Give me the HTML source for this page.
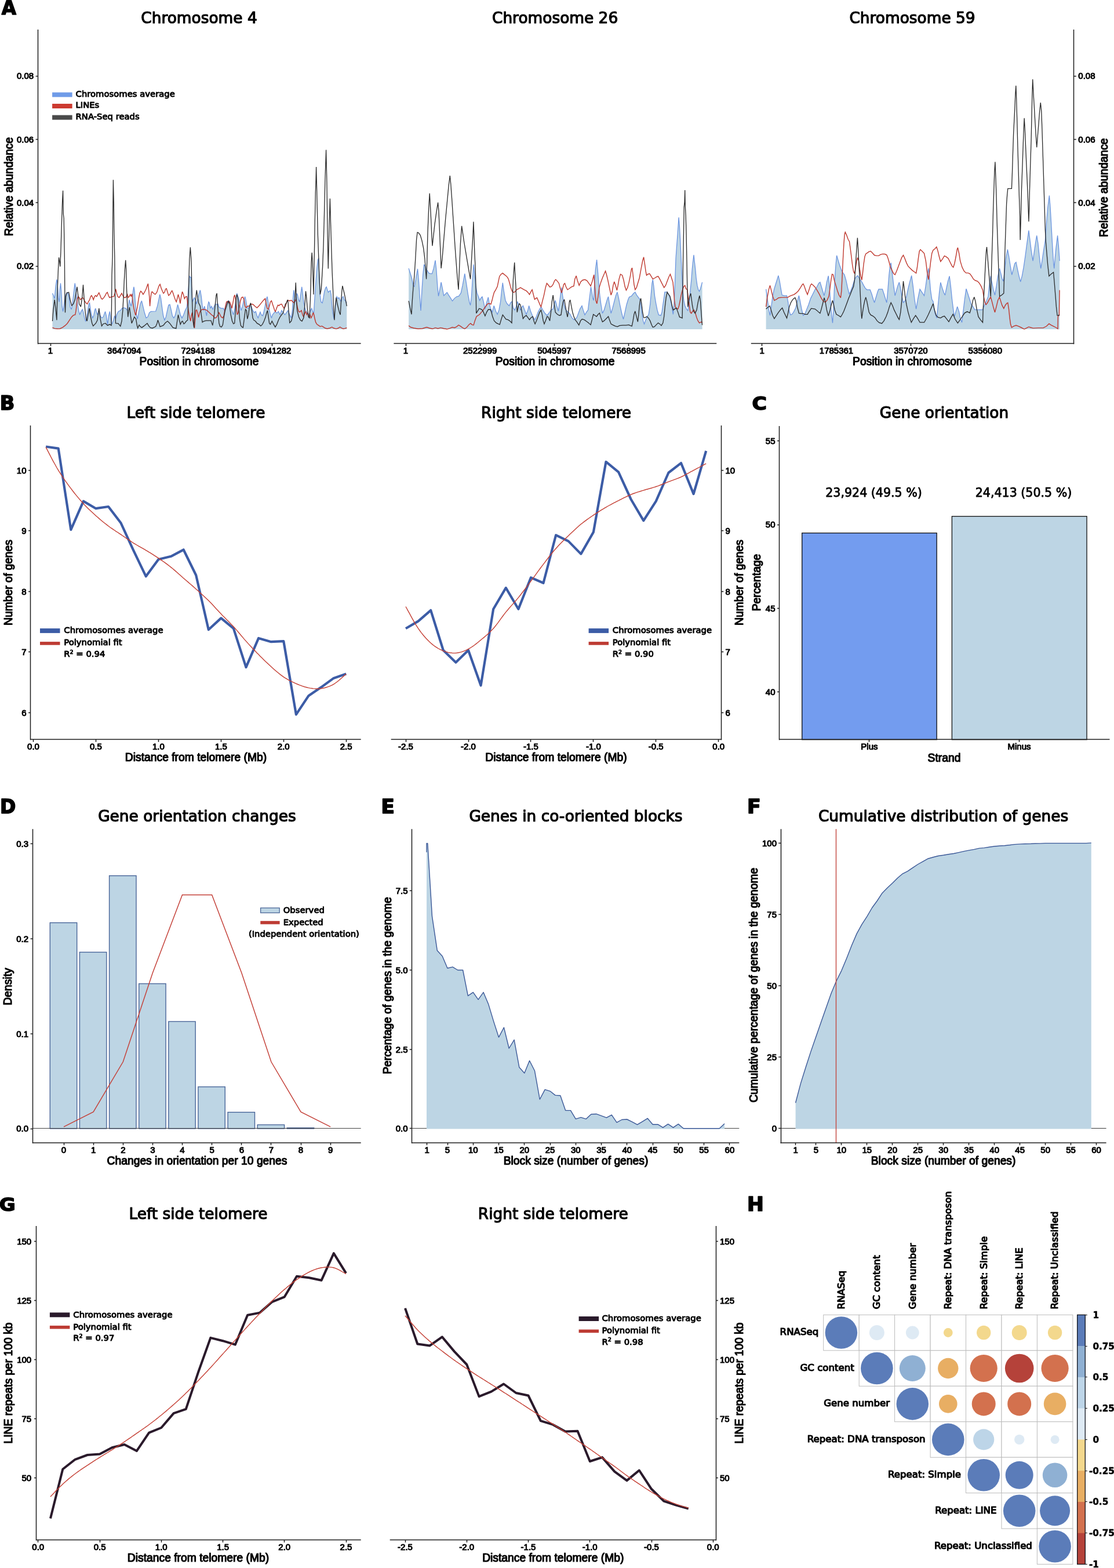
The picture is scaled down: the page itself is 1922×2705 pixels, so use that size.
<!DOCTYPE html>
<html lang="en"><head><meta charset="utf-8"><title>Figure</title>
<style>
html,body{margin:0;padding:0;background:#fff;}
body{width:1922px;height:2705px;overflow:hidden;}
svg{display:block;}
svg text{font-family:'Liberation Sans',sans-serif;fill:#000;stroke:#000;stroke-width:1px;paint-order:stroke;stroke-linejoin:round;}
svg text.dj{font-family:'DejaVu Sans','Liberation Sans',sans-serif;}
svg text.ttl{stroke-width:1.2px;}
svg text.ltr{stroke-width:5px;}
svg text.lg{stroke-width:0.95px;}
svg text.lab{stroke-width:1.15px;}
svg text.val{stroke-width:0.8px;}
svg text.cb{stroke-width:0.5px;}
svg text.hl{stroke-width:1.15px;}
</style></head><body>
<svg width="1922" height="2705" viewBox="0 0 1922 2705">
<rect x="0" y="0" width="1922" height="2705" fill="#fff"/>
<g id="panel-a">
<text transform="translate(2.85 24.92) scale(0.3259 0.3282)" font-size="100" font-weight="bold" class="dj ltr">A</text>
<text x="343.5" y="39.7" font-size="26.4" text-anchor="middle" class="dj ttl">Chromosome 4</text>
<polygon points="90.5,568 90.5,506 92.3,509.7 94.2,515.2 96,494.9 97.9,482 99.2,489.4 100.6,513.4 102.1,520.8 103.4,498.6 104.5,488.5 105.8,502.3 107.1,528.2 108.6,537.4 110.2,528.2 111.7,513.4 113.6,507.9 115.4,505.1 117.3,506 119.1,513.4 121.3,530 123.2,533.7 125,524.5 126.9,507.9 128.4,494.9 129.3,488.5 130.6,498.6 132,511.6 133.9,524.5 135.7,535.6 137.6,543 139.8,537.4 142.2,533.7 144.1,539.3 145.9,548.5 147.7,554 149.6,550.3 151.4,535.6 153.3,524.5 154.6,522.6 156.1,533.7 157.9,543 159.8,548.5 161.6,544.8 163.4,535.6 164.7,531.9 166.2,537.4 168.1,543 170.8,535.6 173.1,544.8 175.5,548.5 178.2,546.7 180.1,541.1 181.6,537.4 183.4,544.8 185.6,559.6 187.5,544.8 189.3,537.4 191.2,550.3 193,559.6 195.8,552.2 197.6,544.8 199.5,550.3 201.3,543 204.1,537.4 207.8,535.6 210.6,531.9 213.3,531 217,531.9 219.8,535.6 221.6,528.2 222.9,517.1 224.4,522.6 226.3,528.2 228.1,517.1 229.6,502.3 230.9,494.9 232.2,502.3 233.6,524.5 235.5,543 237.3,550.3 239.2,539.3 242,524.5 244.4,518.9 246.6,528.2 249.3,539.3 252.1,548.5 254.9,546.7 257.7,539.3 260.4,537.4 268.7,537 271.5,528.2 273.9,517.1 275.8,507.9 277.6,515.2 279.8,531.9 281.7,544.8 283.9,552.2 286.3,546.7 289.1,533.7 290.9,526.3 293.1,525.4 295.5,535.6 297.4,544.8 299.8,548.5 302,544.8 304.8,533.7 306.6,525.4 308.5,531.9 311.2,543 314,548.5 316.8,543 319.5,535.6 322.3,530 324.2,513.4 325.5,489.4 326.9,476.5 328.2,478.3 329.7,478.3 330.8,498.6 331.9,520.8 333.4,517.1 335.2,513.4 337.1,517.1 338.9,524.5 340.8,517.1 343,507.9 345.4,500.5 347.3,511.6 349.1,528.2 351,535.6 352.8,528.2 354.6,535.6 356.5,544.8 358.3,528.2 360,520.8 361.2,522.6 363.1,531.9 364.9,528.2 367.3,533.7 369.6,528.2 371.8,524.5 374.2,525.4 376,524.5 377.9,530 381.6,531.9 385.3,531.9 387.1,535.6 389,528.2 391.7,520.8 394.5,518.9 397.3,524.5 400,535.6 402.8,543 405,531.9 406.9,517.1 408.7,506 410.6,511.6 412.4,517.1 414.3,528.2 416.1,535.6 418.5,528.2 420.4,518.9 422.6,511.6 424.1,517.1 425.9,528.2 427.7,531.9 430.5,530 433.3,528.2 436.1,535.6 438.8,539.3 441.2,537.4 443.4,544.8 445.3,548.5 447.1,543 449,538.3 450.8,543 453.1,544.8 454.9,539.3 457.3,528.2 459.2,517.1 461,511.6 462.3,518.9 464.1,531.9 466.5,543 468.4,548.5 470.2,543 473,539.3 474.9,537.4 477.6,540.2 480.4,537.4 483.2,543 485.9,535.6 488.7,539.3 491.5,543 494.2,539.3 497,535.6 499.8,543 502.6,548.5 504.4,535.6 505.7,513.4 506.8,500.5 508.1,511.6 509.6,520.8 510.9,513.4 512.2,506 513.6,509.7 515.1,517.1 517,520.8 518.8,507.9 520.7,494.9 522,504.2 523.8,520.8 525.7,530 527.5,535.6 529.3,539.3 532.1,543 534,541.1 535.8,535.6 537.7,531.9 539.5,537.4 541.4,539.3 542.8,517.1 544.1,498.6 545.4,480.1 546.9,461.7 548.4,448.7 549.7,445.1 550.6,470.9 552.1,507.9 553.9,520.8 556.1,522.6 558,513.4 559.8,502.3 561.7,496.8 563.2,494.9 564.4,498.6 566.3,504.2 568.1,502.3 570,501.4 571.3,507.9 572.8,528.2 574.2,539.3 576.1,550.3 577.9,535.6 579.8,517.1 581.1,511.6 582.9,515.2 584.8,513.4 586.6,517.1 588.5,520.8 590.3,513.4 592.2,511.6 594,517.1 595.9,518.9 598.3,522.6 598.3,568" fill="#bdd5e4" stroke="none" stroke-width="0"/>
<polyline points="90.5,506 92.3,509.7 94.2,515.2 96,494.9 97.9,482 99.2,489.4 100.6,513.4 102.1,520.8 103.4,498.6 104.5,488.5 105.8,502.3 107.1,528.2 108.6,537.4 110.2,528.2 111.7,513.4 113.6,507.9 115.4,505.1 117.3,506 119.1,513.4 121.3,530 123.2,533.7 125,524.5 126.9,507.9 128.4,494.9 129.3,488.5 130.6,498.6 132,511.6 133.9,524.5 135.7,535.6 137.6,543 139.8,537.4 142.2,533.7 144.1,539.3 145.9,548.5 147.7,554 149.6,550.3 151.4,535.6 153.3,524.5 154.6,522.6 156.1,533.7 157.9,543 159.8,548.5 161.6,544.8 163.4,535.6 164.7,531.9 166.2,537.4 168.1,543 170.8,535.6 173.1,544.8 175.5,548.5 178.2,546.7 180.1,541.1 181.6,537.4 183.4,544.8 185.6,559.6 187.5,544.8 189.3,537.4 191.2,550.3 193,559.6 195.8,552.2 197.6,544.8 199.5,550.3 201.3,543 204.1,537.4 207.8,535.6 210.6,531.9 213.3,531 217,531.9 219.8,535.6 221.6,528.2 222.9,517.1 224.4,522.6 226.3,528.2 228.1,517.1 229.6,502.3 230.9,494.9 232.2,502.3 233.6,524.5 235.5,543 237.3,550.3 239.2,539.3 242,524.5 244.4,518.9 246.6,528.2 249.3,539.3 252.1,548.5 254.9,546.7 257.7,539.3 260.4,537.4 268.7,537 271.5,528.2 273.9,517.1 275.8,507.9 277.6,515.2 279.8,531.9 281.7,544.8 283.9,552.2 286.3,546.7 289.1,533.7 290.9,526.3 293.1,525.4 295.5,535.6 297.4,544.8 299.8,548.5 302,544.8 304.8,533.7 306.6,525.4 308.5,531.9 311.2,543 314,548.5 316.8,543 319.5,535.6 322.3,530 324.2,513.4 325.5,489.4 326.9,476.5 328.2,478.3 329.7,478.3 330.8,498.6 331.9,520.8 333.4,517.1 335.2,513.4 337.1,517.1 338.9,524.5 340.8,517.1 343,507.9 345.4,500.5 347.3,511.6 349.1,528.2 351,535.6 352.8,528.2 354.6,535.6 356.5,544.8 358.3,528.2 360,520.8 361.2,522.6 363.1,531.9 364.9,528.2 367.3,533.7 369.6,528.2 371.8,524.5 374.2,525.4 376,524.5 377.9,530 381.6,531.9 385.3,531.9 387.1,535.6 389,528.2 391.7,520.8 394.5,518.9 397.3,524.5 400,535.6 402.8,543 405,531.9 406.9,517.1 408.7,506 410.6,511.6 412.4,517.1 414.3,528.2 416.1,535.6 418.5,528.2 420.4,518.9 422.6,511.6 424.1,517.1 425.9,528.2 427.7,531.9 430.5,530 433.3,528.2 436.1,535.6 438.8,539.3 441.2,537.4 443.4,544.8 445.3,548.5 447.1,543 449,538.3 450.8,543 453.1,544.8 454.9,539.3 457.3,528.2 459.2,517.1 461,511.6 462.3,518.9 464.1,531.9 466.5,543 468.4,548.5 470.2,543 473,539.3 474.9,537.4 477.6,540.2 480.4,537.4 483.2,543 485.9,535.6 488.7,539.3 491.5,543 494.2,539.3 497,535.6 499.8,543 502.6,548.5 504.4,535.6 505.7,513.4 506.8,500.5 508.1,511.6 509.6,520.8 510.9,513.4 512.2,506 513.6,509.7 515.1,517.1 517,520.8 518.8,507.9 520.7,494.9 522,504.2 523.8,520.8 525.7,530 527.5,535.6 529.3,539.3 532.1,543 534,541.1 535.8,535.6 537.7,531.9 539.5,537.4 541.4,539.3 542.8,517.1 544.1,498.6 545.4,480.1 546.9,461.7 548.4,448.7 549.7,445.1 550.6,470.9 552.1,507.9 553.9,520.8 556.1,522.6 558,513.4 559.8,502.3 561.7,496.8 563.2,494.9 564.4,498.6 566.3,504.2 568.1,502.3 570,501.4 571.3,507.9 572.8,528.2 574.2,539.3 576.1,550.3 577.9,535.6 579.8,517.1 581.1,511.6 582.9,515.2 584.8,513.4 586.6,517.1 588.5,520.8 590.3,513.4 592.2,511.6 594,517.1 595.9,518.9 598.3,522.6" fill="none" stroke="#6a94e0" stroke-width="1.25" stroke-linejoin="miter" stroke-miterlimit="3"/>
<polyline points="90.5,565.1 94.2,566.6 98.8,567.3 103.4,567 108,564.8 112.6,561.4 116.3,557.7 120,552.2 123.7,546.7 126.5,543.9 129.8,543 131.1,535.6 132.4,524.5 133.5,515.2 134.8,511.6 136.7,513.4 138.5,517.1 140.4,515.2 142.2,513.4 144.1,515.2 145.9,518.9 148.3,522.6 150.5,524.5 152.4,520.8 154.6,517.1 156.4,511.6 157.9,509.7 159.8,513.4 161.2,517.1 163.1,511.6 164.9,509.7 166.8,511.6 169,507.9 170.8,505.1 172.7,509.7 174.9,515.2 176.7,516.2 179.2,513.4 181.6,509.7 183.4,506 185.2,504.2 187.1,509.7 188.9,513.4 191.5,512.5 193.9,511.6 196.3,511.6 198.2,506 199.7,498.6 201.3,506 203.2,511.6 205.6,513.4 207.8,509.7 210,506 211.8,509.7 214.2,513.4 217,513 219.8,507.9 221.1,513.4 222.9,511.6 224.8,507.9 226.3,511.6 227.7,506.9 229,520.8 230.9,531.9 232.7,539.3 234,543.9 235.5,537.4 237.3,528.2 239.2,515.2 241,506 242.9,502.3 244.7,504.2 246.9,507.9 249.3,504.2 252.1,498.6 254,493.1 255.4,489.4 256.4,498.6 257.7,511.6 258.6,528.2 259.5,517.1 261,506 262.3,503.2 265.1,506 267.8,507.9 270.6,504.2 272.4,498.6 274.3,493.1 276.1,490.3 278,496.8 280.2,502.3 282,506 283.9,504.2 285.7,498.6 287.2,497.7 289.1,504.2 290.9,509.7 293.1,507.9 295,504.2 296.8,501.4 298.7,506 300.5,511.6 302.4,517.1 304.2,520.8 305.7,515.2 307.5,507.9 309.4,515.2 310.9,523.6 312.7,511.6 314.6,503.2 316.4,507.9 318.3,515.2 320.5,511.6 322.3,511.6 323.8,524.5 325.1,535.6 326.9,546.7 328.8,554 330.1,544.8 331.6,539.3 333,554 334.3,561.4 335.6,566 336.7,550.3 338,535.6 339.3,534.6 340.8,539.3 342.6,547.6 344.5,539.3 346.3,535.6 349.1,533.7 351.9,533.7 355.6,534.6 358.3,536.5 360,538.3 362.2,540.2 364.9,543 367.7,544.8 370.5,548.9 373.3,547.6 376,543 377.9,539.3 379.7,543 381.6,546.7 384.3,548.5 386.2,544.8 387.7,535.6 389,528.2 390.8,520.8 392.6,519.9 394.5,522.6 396.3,520.8 398.2,525.4 400,531.9 401.9,522.6 403.7,511.6 405,508.8 406.5,517.1 408,531.9 409.3,543 411.1,539.3 413,528.2 414.8,518.9 416.7,513.4 419.1,512.5 420.9,517.1 422.8,528.2 424.6,531 426.8,528.2 429.6,528.2 432.4,525.4 434.6,524.5 437,525.4 439.8,528.2 443.4,531 447.1,527.3 450.8,522.6 454.5,518 457.5,515.2 459.2,524.5 461,531.9 462.8,533.7 464.7,528.2 466.5,520.8 468.4,518.9 470.2,524.5 472.1,530 473.9,535.6 475.2,537.4 477.1,531.9 479.5,526.3 481.3,527.3 483.2,525.4 485.9,524.5 487.8,528.2 490,531.9 492.4,528.2 494.8,520.8 497,518 499.8,518.9 502.6,518 505.3,520.8 507.2,522.6 509,518.9 510.9,517.1 512.2,524.5 513.6,531.9 515.5,537.4 517.3,538.3 520.1,535.6 522,543 523.8,546.7 525.7,541.1 527.5,537.4 529.3,543 531.2,539.3 533,546.7 534.9,543 536.7,548.5 538.6,544.8 540.4,539.3 541.7,543 543.2,550.3 544.7,555.9 546.9,559.6 549.7,561.4 552.4,563.3 555.2,562.4 558,564.2 560.8,566 564.4,567 569.1,566 572.8,564.2 575.5,566 580.1,567.3 583.8,566 586.6,564.2 589.4,566 592.2,567.3 594.9,566.6 598.3,565.5" fill="none" stroke="#bf382e" stroke-width="1.4" stroke-linejoin="miter" stroke-miterlimit="3"/>
<polyline points="90.5,554 91.8,535.6 94.2,517.1 96,531.9 97.9,552.2 99.2,498.6 100.6,461.7 101.6,444.1 102.9,452.4 103.8,459.8 104.9,434 106.2,389.6 107.7,345.3 108.6,328.7 109.3,369.3 110.2,376.7 111.4,448.7 111.9,517.1 112.5,539.3 113.6,511.6 115.4,505.1 118.7,504.2 121,517.1 123.7,527.3 126.5,524.5 129.3,517.1 131.7,502.3 133,494.9 134.3,506 136.7,524.5 139.4,529.1 141.7,513.4 143.5,491.2 145,513.4 146.8,535.6 148.7,550.3 150.1,554 152,543 154.2,531.9 156.1,544.8 158.8,557.7 160.7,562.4 165.3,557.7 168.1,552.2 170.8,531.9 173.1,550.3 175.5,562.4 178.2,558.7 181.9,557.7 185.6,561.4 189.3,559.6 192.1,561.4 192.6,517.1 193,474.6 194.1,443.2 194.5,391.5 195.4,310.2 196.3,350.8 196.7,393.3 197.8,443.2 198.2,480.1 198.9,535.6 199.5,557.7 204.1,558.1 207.8,562.9 210,554 211.8,535.6 213,513.4 214.2,485.7 215.5,463.5 216.7,448.7 217.6,463.5 218.5,498.6 219.8,528.2 220.7,546.7 222.2,535.6 223.5,530 225.3,544.8 227.2,557.7 229.6,552.2 231.8,546.7 234.6,550.3 236.4,561.4 237.7,566 240.1,560.5 242,563.3 244.7,565.1 248.4,562.4 254,557.7 256.7,562.4 259.5,565.5 263.2,566 268.7,563.3 271,557.7 272.4,552.2 274.3,557.7 276.1,563.6 281.7,561.4 285.4,556.8 289.1,554 292.8,557.7 298.3,565.1 303.8,566.6 305.7,554 307.5,543 309.4,552.2 311.2,559.6 313.4,555 314.9,554 317.1,558.7 318.6,557.7 321.4,554 323.8,552.2 324.5,528.2 325.5,496.8 326.2,470.9 326.9,446.9 328.4,426.6 329.3,439.5 330.1,452.4 330.8,494.9 331.6,520.8 332.5,544.8 333.4,554 334.7,565.1 335.8,539.3 337.1,524.5 338.4,507.9 339.3,500.5 340.8,511.6 342.6,522.6 345.4,528.2 347.3,543 349.1,555.9 351.9,554 355.6,553.1 360,553.1 364,553.1 366.8,561.4 368.1,554 369.6,543 371.4,524.5 372.9,509.7 374.2,506 375.1,520.8 376.6,543 377.9,557.7 379.7,563.3 382.1,564.2 384.3,560.5 386.6,544.8 388.4,535.6 390.8,528.2 392.6,522.6 394.5,518.9 396.3,528.2 398.2,543 400.6,554 402.8,558.7 404.7,557.7 406.1,539.3 407.4,513.4 408.7,507.9 410.2,513.4 411.7,528.2 413.5,550.3 415.4,561.4 417.6,564.2 419.4,565.1 421.3,550.3 423.5,533.7 425.3,535.6 426.8,550.3 428.7,543 430.5,528.2 432.4,522.6 434.2,533.7 436.1,548.5 437.9,552.2 440.7,554 443.4,557.7 447.1,559.6 449.9,562.4 452.7,559.6 455.5,554 458.2,546.7 460.1,539.3 461.6,535.6 462.8,544.8 464.7,557.7 466.5,559.6 469.3,554 472.1,559.6 474.9,564.2 477.6,559.6 480.4,552.2 483.2,546.7 485.9,543 488.7,539.3 490.6,531.9 492.4,524.5 494.2,522.6 496.1,517.1 497,520.8 498.5,543 499.8,556.8 502.6,554 505.3,543 507.2,528.2 509,511.6 510.3,487.5 511.4,517.1 512.7,535.6 515.5,546.7 518.3,552.2 521,554 523.8,548.5 525.7,528.2 527.5,502.3 528.8,513.4 530.3,531.9 532.1,546.7 534,548.5 535.4,517.1 536.2,489.4 537.1,452.4 538.2,435.8 539.1,452.4 540.1,480.1 541,507.9 541.7,469.1 542.6,424.7 543.2,387.8 544.3,332.4 545.1,310.2 545.6,288 546.3,313.9 547.3,360.1 548.4,406.3 549.7,443.2 551,480.1 552.4,507.9 554.3,498.6 556.5,461.7 558,424.7 559.5,369.3 560.8,313.9 562.6,258.5 563.9,313.9 565,397 566.3,463.5 567.2,424.7 568.3,380.4 569.4,342.5 570.5,384.1 571.8,428.4 573.1,469.1 574.6,502.3 575.5,535.6 577,552.2 578.3,528.2 580.1,513.4 582,524.5 583.8,531.9 585.7,539.3 587.2,543 588.5,520.8 589.8,502.3 590.9,493.1 592.2,498.6 594,506 595.9,515.2 598.3,528.2" fill="none" stroke="#2a2a2a" stroke-width="1.3" stroke-linejoin="miter" stroke-miterlimit="3"/>
<line x1="65.5" y1="51" x2="65.5" y2="593.5" stroke="#1c1c1c" stroke-width="1.5"/>
<line x1="65" y1="592.5" x2="622.6" y2="592.5" stroke="#1c1c1c" stroke-width="1.5"/>
<line x1="61.6" y1="459.5" x2="65.6" y2="459.5" stroke="#1c1c1c" stroke-width="1.5"/>
<text x="58.2" y="464.3" font-size="15" text-anchor="end" class="tk">0.02</text>
<line x1="61.6" y1="349.5" x2="65.6" y2="349.5" stroke="#1c1c1c" stroke-width="1.5"/>
<text x="58.2" y="355" font-size="15" text-anchor="end" class="tk">0.04</text>
<line x1="61.6" y1="240.5" x2="65.6" y2="240.5" stroke="#1c1c1c" stroke-width="1.5"/>
<text x="58.2" y="245.6" font-size="15" text-anchor="end" class="tk">0.06</text>
<line x1="61.6" y1="131.5" x2="65.6" y2="131.5" stroke="#1c1c1c" stroke-width="1.5"/>
<text x="58.2" y="136.3" font-size="15" text-anchor="end" class="tk">0.08</text>
<line x1="87.5" y1="592.9" x2="87.5" y2="597" stroke="#1c1c1c" stroke-width="1.5"/>
<text x="87" y="609.6" font-size="15" text-anchor="middle" class="tk">1</text>
<line x1="214.5" y1="592.9" x2="214.5" y2="597" stroke="#1c1c1c" stroke-width="1.5"/>
<text x="214.3" y="609.6" font-size="15" text-anchor="middle" class="tk">3647094</text>
<line x1="341.5" y1="592.9" x2="341.5" y2="597" stroke="#1c1c1c" stroke-width="1.5"/>
<text x="341.7" y="609.6" font-size="15" text-anchor="middle" class="tk">7294188</text>
<line x1="469.5" y1="592.9" x2="469.5" y2="597" stroke="#1c1c1c" stroke-width="1.5"/>
<text x="469" y="609.6" font-size="15" text-anchor="middle" class="tk">10941282</text>
<text x="343.5" y="629.5" font-size="19.3" text-anchor="middle" class="lab">Position in chromosome</text>
<text x="21.5" y="322" font-size="19.3" text-anchor="middle" transform="rotate(-90 21.5 322)" class="lab">Relative abundance</text>
<rect x="90.1" y="159.4" width="34.5" height="8" fill="#6f9be8" stroke="none" stroke-width="0"/>
<text x="130.6" y="166.6" font-size="14.8" class="dj lg">Chromosomes average</text>
<rect x="90.1" y="179" width="34.5" height="8" fill="#cc3a30" stroke="none" stroke-width="0"/>
<text x="130.6" y="186.2" font-size="14.8" class="dj lg">LINEs</text>
<rect x="90.1" y="198.6" width="34.5" height="8" fill="#4a4a4a" stroke="none" stroke-width="0"/>
<text x="130.6" y="205.8" font-size="14.8" class="dj lg">RNA-Seq reads</text>
<text x="957.6" y="39.7" font-size="26.4" text-anchor="middle" class="dj ttl">Chromosome 26</text>
<polygon points="705.1,568 705.1,462.9 707.5,470.3 710.3,479.5 713.1,492.4 714.9,494.3 717.7,479.5 720.5,463.8 722.3,483.2 724.2,510.9 726,535.9 727.9,501.7 729.7,474 731.6,456.4 733.4,459.2 735.3,464.7 737.1,466.6 739.9,471.2 742.6,472.1 745.4,472.1 748.2,462.9 751,449 752.8,464.7 754.7,492.4 756.5,510.9 758.4,501.7 761.1,486.9 763,496.1 765.7,510 768.5,507.2 771.3,504.4 774.1,509.1 777.7,514.6 780.5,519.2 784.2,514.6 787.9,511.8 791.6,510.9 795.3,505.4 798.1,492.4 801.8,472.1 804.5,488.7 807.3,507.2 810.1,522 811.6,526.6 813.4,512.8 815.2,483.2 817.1,456.4 818.9,474 820.8,492.4 823,505.4 825.8,512.8 827.6,518.3 829.5,514.6 831.9,511.8 834.1,520.1 836.9,533.1 839.6,522 842.4,512.8 844.2,523.8 846.7,533.1 849.2,538.6 852.2,527.5 855.3,536.8 858.1,542.3 860.9,534.9 863.6,520.1 865.5,501.7 867.3,487.8 869.2,501.7 872,518.3 874.7,523.8 878.4,527.5 881.2,522 883.4,520.1 885.4,531.2 888,534.9 890.4,529.4 892.8,520.1 895.1,527.5 897.8,534.9 900.6,529.4 902.4,527.5 905.2,534.9 908,542.3 910.8,534.9 912.6,527.5 915.4,536.8 919.1,546 922.8,551.6 925.5,546 928.3,538.6 931.1,533.1 933.5,529.4 936.6,534.9 940.3,540.5 944,544.2 946.8,540.5 950.5,534.9 954.2,533.1 956.9,522 958.2,518.3 960.6,527.5 963.4,536.8 965.6,520.1 967.5,505.4 968.9,496.1 970.8,510.9 973,525.7 975.4,533.1 978.2,536.8 981,538.6 983.7,542.3 986.5,547.9 990,551.6 992.3,550.6 995.1,547.9 997.9,540.5 1000.6,533.1 1004,527.5 1006.2,534.9 1009,543.2 1011.7,538.6 1014.5,534.9 1016.3,520.1 1018.2,505.4 1019.5,495.2 1021,503.5 1022.8,514.6 1024.3,518.3 1025.6,492.4 1027.4,464.7 1029.6,448.1 1031.1,464.7 1033,488.7 1034.8,509.1 1036.7,523.8 1039.4,540.5 1042.2,534.9 1045,525.7 1047.7,516.5 1049.6,511.8 1051.4,523.8 1054.2,540.5 1057,531.2 1059.8,520.1 1062.5,510 1064.9,503.9 1067.1,512.8 1069.9,527.5 1072.7,540.5 1075.5,550.6 1078.2,538.6 1081,525.7 1083.8,516.5 1085.6,512.4 1089.3,510.9 1093,506.3 1095.8,503.9 1098.5,509.1 1101.3,512.8 1104.1,516.5 1105.9,527.5 1107.8,542.3 1109.6,553.4 1111.5,558.9 1114.2,551.6 1117,546 1119.2,542.3 1121.6,525.7 1123.5,505.4 1125,488.7 1126.3,482.3 1127.7,492.4 1129.6,510.9 1131.8,523.8 1134,534.9 1136.4,543.2 1140.1,544.2 1142,538.6 1143.8,525.7 1145.7,512.8 1146.9,503.9 1150.3,503.9 1153,506.3 1155.8,512.8 1158.6,525.7 1161.4,542.3 1163.2,520.1 1164.7,483.2 1166,446.3 1167.3,427.8 1168.7,409.3 1170,390.8 1171.1,375.1 1172.4,390.8 1173.9,418.5 1175.2,446.3 1176.5,474 1178,501.7 1179.8,518.3 1181.7,527.5 1184.4,533.1 1186.8,535.9 1189.1,520.1 1190.9,501.7 1192.8,483.2 1194.2,464.7 1195.5,451.8 1197,439.8 1198.3,451.8 1199.8,464.7 1201.1,479.5 1202.9,492.4 1204.8,499.8 1206.6,502.6 1208.5,498 1210.3,491.5 1211.6,486.9 1211.6,568" fill="#bdd5e4" stroke="none" stroke-width="0"/>
<polyline points="705.1,462.9 707.5,470.3 710.3,479.5 713.1,492.4 714.9,494.3 717.7,479.5 720.5,463.8 722.3,483.2 724.2,510.9 726,535.9 727.9,501.7 729.7,474 731.6,456.4 733.4,459.2 735.3,464.7 737.1,466.6 739.9,471.2 742.6,472.1 745.4,472.1 748.2,462.9 751,449 752.8,464.7 754.7,492.4 756.5,510.9 758.4,501.7 761.1,486.9 763,496.1 765.7,510 768.5,507.2 771.3,504.4 774.1,509.1 777.7,514.6 780.5,519.2 784.2,514.6 787.9,511.8 791.6,510.9 795.3,505.4 798.1,492.4 801.8,472.1 804.5,488.7 807.3,507.2 810.1,522 811.6,526.6 813.4,512.8 815.2,483.2 817.1,456.4 818.9,474 820.8,492.4 823,505.4 825.8,512.8 827.6,518.3 829.5,514.6 831.9,511.8 834.1,520.1 836.9,533.1 839.6,522 842.4,512.8 844.2,523.8 846.7,533.1 849.2,538.6 852.2,527.5 855.3,536.8 858.1,542.3 860.9,534.9 863.6,520.1 865.5,501.7 867.3,487.8 869.2,501.7 872,518.3 874.7,523.8 878.4,527.5 881.2,522 883.4,520.1 885.4,531.2 888,534.9 890.4,529.4 892.8,520.1 895.1,527.5 897.8,534.9 900.6,529.4 902.4,527.5 905.2,534.9 908,542.3 910.8,534.9 912.6,527.5 915.4,536.8 919.1,546 922.8,551.6 925.5,546 928.3,538.6 931.1,533.1 933.5,529.4 936.6,534.9 940.3,540.5 944,544.2 946.8,540.5 950.5,534.9 954.2,533.1 956.9,522 958.2,518.3 960.6,527.5 963.4,536.8 965.6,520.1 967.5,505.4 968.9,496.1 970.8,510.9 973,525.7 975.4,533.1 978.2,536.8 981,538.6 983.7,542.3 986.5,547.9 990,551.6 992.3,550.6 995.1,547.9 997.9,540.5 1000.6,533.1 1004,527.5 1006.2,534.9 1009,543.2 1011.7,538.6 1014.5,534.9 1016.3,520.1 1018.2,505.4 1019.5,495.2 1021,503.5 1022.8,514.6 1024.3,518.3 1025.6,492.4 1027.4,464.7 1029.6,448.1 1031.1,464.7 1033,488.7 1034.8,509.1 1036.7,523.8 1039.4,540.5 1042.2,534.9 1045,525.7 1047.7,516.5 1049.6,511.8 1051.4,523.8 1054.2,540.5 1057,531.2 1059.8,520.1 1062.5,510 1064.9,503.9 1067.1,512.8 1069.9,527.5 1072.7,540.5 1075.5,550.6 1078.2,538.6 1081,525.7 1083.8,516.5 1085.6,512.4 1089.3,510.9 1093,506.3 1095.8,503.9 1098.5,509.1 1101.3,512.8 1104.1,516.5 1105.9,527.5 1107.8,542.3 1109.6,553.4 1111.5,558.9 1114.2,551.6 1117,546 1119.2,542.3 1121.6,525.7 1123.5,505.4 1125,488.7 1126.3,482.3 1127.7,492.4 1129.6,510.9 1131.8,523.8 1134,534.9 1136.4,543.2 1140.1,544.2 1142,538.6 1143.8,525.7 1145.7,512.8 1146.9,503.9 1150.3,503.9 1153,506.3 1155.8,512.8 1158.6,525.7 1161.4,542.3 1163.2,520.1 1164.7,483.2 1166,446.3 1167.3,427.8 1168.7,409.3 1170,390.8 1171.1,375.1 1172.4,390.8 1173.9,418.5 1175.2,446.3 1176.5,474 1178,501.7 1179.8,518.3 1181.7,527.5 1184.4,533.1 1186.8,535.9 1189.1,520.1 1190.9,501.7 1192.8,483.2 1194.2,464.7 1195.5,451.8 1197,439.8 1198.3,451.8 1199.8,464.7 1201.1,479.5 1202.9,492.4 1204.8,499.8 1206.6,502.6 1208.5,498 1210.3,491.5 1211.6,486.9" fill="none" stroke="#6a94e0" stroke-width="1.25" stroke-linejoin="miter" stroke-miterlimit="3"/>
<polyline points="705.1,561.7 708.5,564.5 714,566 721.4,567.3 728.8,566.7 736.2,564.5 740.8,566 746.3,567.3 751,565.4 755.6,566.7 760.2,565.4 765.7,566.7 771.3,567.8 775.9,566.3 780.5,564.5 784.2,565.4 787.9,563.6 791.2,560.8 794.4,562.6 798.1,565.4 801.8,567.3 805.5,564.5 809.2,559.9 811.9,558 814.7,560.4 817.1,560.8 819.3,553.4 822.1,546 824.9,544.2 827.6,542.3 830.4,538.6 833.2,535.9 835.9,531.2 838.7,527.5 841.5,523.8 844.2,523.5 847,524.8 848.9,518.3 850.7,510.9 852.6,504.4 855.3,499.8 858.1,494.3 860,485.1 861.8,476.7 864.6,473 867.3,471.2 870.1,473.6 872.9,475.8 875.7,478.6 877.5,482.3 879.3,488.7 881.2,496.1 883.6,502.6 885.8,504.4 888.6,503.5 891.4,499.8 895.1,498 897.8,496.1 900.6,497.6 904.3,499.8 908,501.7 910.8,504.4 913.5,508.1 916.3,502.6 918.1,499.8 920,507.2 922.4,516.5 924.6,514.6 926.5,513.7 929.2,520.1 932,526.6 933.5,529.4 935.7,520.1 938.5,509.1 941.2,496.1 943.4,488.7 945.9,491.5 948.6,495.2 951.4,494.3 954.2,490.6 956.9,484.1 958.8,482.3 961.6,485.1 964.3,488.7 966.2,496.1 968.9,505.4 970.8,498 972.6,490.6 974.5,488.7 976.3,494.3 979.1,499.8 981.9,498 985.6,495.2 990,493.4 991.8,481.4 994.2,475.8 996,483.2 999.2,492.4 1002.1,486 1005.3,483.2 1009,482.3 1012.6,484.1 1015.4,487.8 1019.1,493.4 1021.9,485.1 1024.7,474 1026.1,492.4 1028,518.3 1029.8,523.8 1031.7,512.8 1033.9,496.1 1036.7,486.9 1039.4,479.5 1042.2,473 1044.6,467.5 1046.5,474 1048.7,483.2 1051.4,496.1 1054.2,509.1 1056.1,503.5 1057.9,492.4 1059.8,486 1062,492.4 1064.4,500.8 1066.2,492.4 1068.1,481.4 1070.5,473 1073.6,474.9 1076,483.2 1078.2,494.3 1080.4,500.8 1082.8,496.1 1085.2,486.9 1087.5,475.8 1089.3,464.7 1090.6,462 1092.1,474 1093.9,490.6 1095.8,499.8 1098.2,496.1 1100.4,488.7 1103.2,479.5 1105.9,464.7 1108.7,450 1110.6,443.5 1112.4,455.5 1114.2,468.4 1115.5,474.9 1117.9,473 1120.7,472.1 1123.5,476.7 1126.3,481.4 1130,479.5 1132.7,477.7 1135.5,476.7 1138.3,481.4 1141,486.9 1143.8,492.4 1145.7,496.1 1148.4,492.4 1151.2,485.1 1154,477.7 1156.4,473 1158.6,479.5 1161,486.9 1162.3,501.7 1163.6,518.3 1165.1,529.4 1167.3,532.2 1169.7,533.1 1171.5,527.5 1173.4,518.3 1175.2,509.1 1177.6,499.8 1179.8,494.3 1181.7,492.4 1183.5,498 1185.7,499.8 1187.2,510.9 1189.1,525.7 1190.9,538.6 1192.8,540.5 1195,536.8 1197.4,534.9 1199.8,540.5 1202,547.9 1204.2,553.4 1206.6,557.1 1208.5,556.2 1210.3,555.2 1211.6,557.1" fill="none" stroke="#bf382e" stroke-width="1.4" stroke-linejoin="miter" stroke-miterlimit="3"/>
<polyline points="705.1,519.2 707.5,531.2 710,542.3 711.2,520.1 713.1,494.3 714.9,475.8 716.8,446.3 718.6,413 720.1,401 722.3,401.9 725.1,405.6 727.9,414.9 730.6,427.8 732.9,446.3 734.3,464.7 735.6,481.4 736.6,455.5 738,400.1 739.5,363.1 741.2,333.6 742.6,357.6 743.9,383.4 745,409.3 746,424.1 747.6,409.3 750,387.1 752.8,366.8 755.6,349.3 756.9,363.1 758.4,398.2 759.8,431.5 761.1,462.9 763,446.3 765.7,413 768.5,379.8 771.3,350.2 774.1,320.6 776.3,303.1 777.7,316.9 779.6,342.8 781.4,370.5 783.3,398.2 785.1,425.9 787,451.8 788.8,475.8 791,499.8 792.5,464.7 794.4,420.4 796.6,389.9 798.1,400.1 800.8,418.5 803.6,435.2 806.4,451.8 809.2,468.4 811.6,481.4 812.8,461 814.7,427.8 816.2,400.1 816.9,382.5 817.8,405.6 818.9,437 820.2,464.7 821.2,501.7 821.7,540.5 823.9,536.8 826.7,532.2 829.5,533.1 832.2,534.9 834.1,538.6 836.9,545.1 839.6,538.6 842.4,534 846.1,534 847.9,538.6 849.8,546 852.6,553.4 856.3,557.1 860,558.9 862.2,559.9 864.6,551.6 867.3,543.2 870.1,546.9 872.9,550.6 876.6,551.6 880.3,554.3 883,557.1 884,520.1 885.4,483.2 886.7,464.7 887.7,452.7 888.6,472.1 889.9,492.4 891,520.1 892.3,538.6 894.1,529.4 896,523.8 897.8,525.7 899.7,534.9 902.4,549.7 905.2,546 908,544.2 910.8,547.9 913.5,551.6 916.3,547.9 919.1,546 920.9,553.4 923.1,558.9 925.5,553.4 928.3,546 931.1,538.6 933.5,534.9 935.3,542.3 937.2,553.4 939,558.9 941.2,553.4 944,546 945.9,546.9 948.6,553.4 950.5,538.6 952.3,520.1 954.2,509.1 956,523.8 958.2,538.6 961.6,542.3 965.2,544.2 968,543.2 969.9,529.4 971.7,520.1 973.6,516.5 975.4,527.5 977.3,538.6 979.1,546.9 981,534.9 982.4,520.1 983.7,517.4 985.6,527.5 987.8,538.6 990,546 992.3,551.6 995.1,555.2 998.8,560.8 1001.6,553.4 1004.3,550.6 1008,551.6 1011.7,554.3 1015.4,557.1 1019.1,560.4 1021.9,549.7 1023.7,542.3 1026.5,544.2 1029.3,546 1032,542.3 1034.4,540.1 1036.7,547.9 1039.4,555.2 1042.2,553.4 1045.9,549.7 1049.6,546 1051.4,551.6 1054.2,558.9 1057.9,560.8 1061.6,562.6 1065.3,563.6 1069,561.7 1074.5,561.2 1080.1,561.2 1084.7,560.4 1087.5,561.7 1090.2,562.6 1092.1,553.4 1093.9,542.3 1095.8,536.8 1097.6,544.2 1100.4,555.2 1101.9,542.3 1103.2,527.5 1104.5,518.3 1105.6,514.6 1106.9,523.8 1108.7,538.6 1110.6,547.9 1113.3,547.9 1116.1,546 1118.9,548.8 1121.6,553.4 1124.4,560.8 1126.3,564.5 1129,563.6 1132.7,559.9 1135.5,557.1 1138.3,558.9 1141,561.7 1143.8,557.1 1145.7,546 1147.5,527.5 1149.3,512.8 1151.2,503.9 1153,507.2 1155.8,510.9 1157.7,518.3 1159.5,527.5 1161.4,534.9 1164.1,533.1 1166.9,531.2 1169.7,538.6 1172.4,546.9 1175.2,547.9 1177.1,548.8 1178,501.7 1178.5,451.8 1179.5,400.1 1180.2,357.6 1181.1,348.4 1181.7,328 1182.2,353.9 1183.2,372.4 1184.1,405.6 1185,451.8 1185.7,492.4 1186.8,529.4 1188.1,520.1 1190,510.9 1191.8,506.3 1193.1,516.5 1194.6,527.5 1196.5,536.8 1199.2,540.5 1202,534.9 1203.8,523.8 1205.7,514.6 1207,510 1208.5,520.1 1209.8,538.6 1210.9,553.4 1211.6,560.8" fill="none" stroke="#2a2a2a" stroke-width="1.3" stroke-linejoin="miter" stroke-miterlimit="3"/>
<line x1="679.4" y1="592.5" x2="1236.3" y2="592.5" stroke="#1c1c1c" stroke-width="1.5"/>
<line x1="700.5" y1="592.9" x2="700.5" y2="597" stroke="#1c1c1c" stroke-width="1.5"/>
<text x="700" y="609.6" font-size="15" text-anchor="middle" class="tk">1</text>
<line x1="828.5" y1="592.9" x2="828.5" y2="597" stroke="#1c1c1c" stroke-width="1.5"/>
<text x="828.2" y="609.6" font-size="15" text-anchor="middle" class="tk">2522999</text>
<line x1="956.5" y1="592.9" x2="956.5" y2="597" stroke="#1c1c1c" stroke-width="1.5"/>
<text x="956.4" y="609.6" font-size="15" text-anchor="middle" class="tk">5045997</text>
<line x1="1084.5" y1="592.9" x2="1084.5" y2="597" stroke="#1c1c1c" stroke-width="1.5"/>
<text x="1084.6" y="609.6" font-size="15" text-anchor="middle" class="tk">7568995</text>
<text x="957.6" y="629.5" font-size="19.3" text-anchor="middle" class="lab">Position in chromosome</text>
<text x="1574" y="39.7" font-size="26.4" text-anchor="middle" class="dj ttl">Chromosome 59</text>
<polygon points="1321.6,568 1321.6,498.9 1323.9,514.6 1326.3,533.1 1328.5,544.2 1330.7,529.4 1333.1,510.9 1335.9,498 1339.6,486 1342.9,475.4 1345.1,485.1 1346.9,496.1 1349.2,509.1 1353.4,510 1357.5,510 1359.5,520.1 1361.7,536.8 1363.9,543.2 1366.3,542.3 1369.1,538.6 1372.8,531.2 1375.6,520.1 1378.4,510 1380.2,518.3 1383,533.1 1385.7,544.2 1388.5,542.3 1391.3,534.9 1395,525.7 1398.7,514.6 1402.4,507.2 1406.1,499.8 1409.8,494.3 1412.5,488.7 1414.9,486.9 1417.1,494.3 1419.9,503.5 1421.8,510 1424.2,499.8 1426.4,486.9 1429.2,475.8 1431,492.4 1432.8,520.1 1434.7,542.3 1436.5,557.1 1437.8,538.6 1439.3,501.7 1440.8,474 1442.1,455.5 1443.6,440.7 1445.8,448.1 1448.5,457.3 1451.3,464.7 1454.1,470.3 1456.9,474 1459.6,483.2 1462.4,496.1 1465.2,507.2 1467.9,501.7 1470.7,494.3 1473.5,485.1 1476.3,478.6 1479.6,475.4 1481.8,478.6 1484.6,483.2 1487.3,486.9 1490.1,492.4 1492.9,497.1 1495.7,499.8 1501.2,499.8 1504,507.2 1506.7,516.5 1508.6,522 1511.4,512.8 1514.1,503.5 1516,498.9 1522.4,498.9 1525.2,507.2 1528,516.5 1529.8,522 1531.7,501.7 1533.9,474 1535.7,457.3 1537.2,453.6 1539.1,468.4 1541.8,492.4 1544.2,510 1546.5,501.7 1549.2,492.4 1551.4,486.9 1553.5,496.1 1555.7,509.1 1558.5,522 1561.2,519.2 1564,510.9 1566.8,498 1569.5,486.9 1572.7,475.4 1575.1,492.4 1577.9,516.5 1580.6,533.1 1583.4,516.5 1587.1,498.9 1590.8,504.4 1594.5,510 1597.3,492.4 1599.7,474 1601.9,462.9 1603.7,479.5 1605.6,501.7 1607.8,516.5 1610,520.1 1613,539.8 1616.3,548.6 1618.4,526.7 1620.6,504.8 1622.8,487.3 1625.4,496.1 1628.3,504.8 1630.5,509.2 1632.7,498.2 1635.5,485.1 1638.1,476.4 1640.3,493.9 1642.5,515.8 1644.7,533.3 1646.5,546.4 1649.1,537.6 1651.7,528.9 1654.6,537.6 1656.7,548.6 1659.6,556.2 1661.8,537.6 1664.4,515.8 1667,498.2 1669.9,507 1672.7,515.8 1675.3,524.5 1678.6,528.9 1681.9,534.4 1686.3,534.4 1695.5,534.4 1698.3,526.7 1701.6,520.1 1704.9,511.4 1707.1,489.5 1709.3,476.4 1711.4,487.3 1713.6,498.2 1716.5,509.2 1719.1,493.9 1721.7,476.4 1724.6,463.2 1726.8,472 1728.9,480.7 1731.1,485.1 1733.3,467.6 1735.5,445.7 1738.4,430.4 1740.5,441.4 1743.2,458.9 1745.8,474.2 1748.6,463.2 1750.8,454.5 1753,452.3 1755.2,463.2 1758.1,476.4 1760.7,486.2 1763.3,476.4 1766.1,461.1 1769,441.4 1771.6,421.7 1774.9,397.6 1777.1,415.1 1779.3,432.6 1782.1,450.1 1784.3,434.8 1786.5,419.5 1788.7,406.3 1790.9,419.5 1793.1,441.4 1795.7,463.2 1797.9,450.1 1800.5,432.6 1803.3,415.1 1805.5,384.5 1807.7,358.2 1810.4,337.4 1812.1,358.2 1813.6,384.5 1815.4,417.3 1817.1,445.7 1818.7,463.2 1820.2,445.7 1821.9,428.2 1824.6,406.3 1826.3,423.9 1828.1,450.1 1828.1,568" fill="#bdd5e4" stroke="none" stroke-width="0"/>
<polyline points="1321.6,498.9 1323.9,514.6 1326.3,533.1 1328.5,544.2 1330.7,529.4 1333.1,510.9 1335.9,498 1339.6,486 1342.9,475.4 1345.1,485.1 1346.9,496.1 1349.2,509.1 1353.4,510 1357.5,510 1359.5,520.1 1361.7,536.8 1363.9,543.2 1366.3,542.3 1369.1,538.6 1372.8,531.2 1375.6,520.1 1378.4,510 1380.2,518.3 1383,533.1 1385.7,544.2 1388.5,542.3 1391.3,534.9 1395,525.7 1398.7,514.6 1402.4,507.2 1406.1,499.8 1409.8,494.3 1412.5,488.7 1414.9,486.9 1417.1,494.3 1419.9,503.5 1421.8,510 1424.2,499.8 1426.4,486.9 1429.2,475.8 1431,492.4 1432.8,520.1 1434.7,542.3 1436.5,557.1 1437.8,538.6 1439.3,501.7 1440.8,474 1442.1,455.5 1443.6,440.7 1445.8,448.1 1448.5,457.3 1451.3,464.7 1454.1,470.3 1456.9,474 1459.6,483.2 1462.4,496.1 1465.2,507.2 1467.9,501.7 1470.7,494.3 1473.5,485.1 1476.3,478.6 1479.6,475.4 1481.8,478.6 1484.6,483.2 1487.3,486.9 1490.1,492.4 1492.9,497.1 1495.7,499.8 1501.2,499.8 1504,507.2 1506.7,516.5 1508.6,522 1511.4,512.8 1514.1,503.5 1516,498.9 1522.4,498.9 1525.2,507.2 1528,516.5 1529.8,522 1531.7,501.7 1533.9,474 1535.7,457.3 1537.2,453.6 1539.1,468.4 1541.8,492.4 1544.2,510 1546.5,501.7 1549.2,492.4 1551.4,486.9 1553.5,496.1 1555.7,509.1 1558.5,522 1561.2,519.2 1564,510.9 1566.8,498 1569.5,486.9 1572.7,475.4 1575.1,492.4 1577.9,516.5 1580.6,533.1 1583.4,516.5 1587.1,498.9 1590.8,504.4 1594.5,510 1597.3,492.4 1599.7,474 1601.9,462.9 1603.7,479.5 1605.6,501.7 1607.8,516.5 1610,520.1 1613,539.8 1616.3,548.6 1618.4,526.7 1620.6,504.8 1622.8,487.3 1625.4,496.1 1628.3,504.8 1630.5,509.2 1632.7,498.2 1635.5,485.1 1638.1,476.4 1640.3,493.9 1642.5,515.8 1644.7,533.3 1646.5,546.4 1649.1,537.6 1651.7,528.9 1654.6,537.6 1656.7,548.6 1659.6,556.2 1661.8,537.6 1664.4,515.8 1667,498.2 1669.9,507 1672.7,515.8 1675.3,524.5 1678.6,528.9 1681.9,534.4 1686.3,534.4 1695.5,534.4 1698.3,526.7 1701.6,520.1 1704.9,511.4 1707.1,489.5 1709.3,476.4 1711.4,487.3 1713.6,498.2 1716.5,509.2 1719.1,493.9 1721.7,476.4 1724.6,463.2 1726.8,472 1728.9,480.7 1731.1,485.1 1733.3,467.6 1735.5,445.7 1738.4,430.4 1740.5,441.4 1743.2,458.9 1745.8,474.2 1748.6,463.2 1750.8,454.5 1753,452.3 1755.2,463.2 1758.1,476.4 1760.7,486.2 1763.3,476.4 1766.1,461.1 1769,441.4 1771.6,421.7 1774.9,397.6 1777.1,415.1 1779.3,432.6 1782.1,450.1 1784.3,434.8 1786.5,419.5 1788.7,406.3 1790.9,419.5 1793.1,441.4 1795.7,463.2 1797.9,450.1 1800.5,432.6 1803.3,415.1 1805.5,384.5 1807.7,358.2 1810.4,337.4 1812.1,358.2 1813.6,384.5 1815.4,417.3 1817.1,445.7 1818.7,463.2 1820.2,445.7 1821.9,428.2 1824.6,406.3 1826.3,423.9 1828.1,450.1" fill="none" stroke="#6a94e0" stroke-width="1.25" stroke-linejoin="miter" stroke-miterlimit="3"/>
<polyline points="1321.6,529.4 1323.9,512.8 1326.3,499.8 1328.5,492.4 1330.7,500.8 1333.1,510.9 1335.9,518.3 1339.6,516.5 1343.3,513.7 1348.8,513.1 1354.3,513.1 1359,513.1 1362.6,510.9 1366.3,509.4 1370,508.1 1373.7,505.4 1377.4,501.7 1381.1,496.1 1383.9,491.5 1385.7,489.7 1387.6,493.4 1390.4,501.7 1393.1,508.1 1395.9,499.8 1398.3,492.4 1400.1,489.7 1402.4,491.5 1406.1,495.2 1409.8,500.8 1413.4,507.2 1417.1,514.6 1420.8,520.1 1424.2,521.1 1427.3,517.4 1430.1,510.9 1431.9,498 1433.8,483.2 1435.6,473 1437.5,474 1439.3,483.2 1442.1,492.4 1444.9,501.7 1447.6,509.1 1450.4,513.7 1451.9,501.7 1453.2,474 1454.5,446.3 1455.9,420.4 1457.2,403.8 1458.3,400.4 1460.6,405.6 1463.3,413 1465.5,416.7 1467,427.8 1468.9,442.6 1470.7,457.3 1472.6,468.4 1474.4,472.1 1476.3,461 1478.1,450 1479.6,444.4 1481.4,450 1483.3,464.7 1485.1,475.8 1486.8,483.2 1488.3,472.1 1490.1,455.5 1492,442.6 1493.8,437.9 1496.6,436.1 1499.3,434.2 1502.1,433.3 1504.9,436.1 1508.6,440.3 1512.3,441.1 1516,441.1 1519.7,438.9 1523.4,438.1 1527.1,438.5 1529.8,439.8 1531.7,444.4 1533.9,451.8 1536.3,461 1539.1,466.6 1541.8,472.1 1544.2,474 1547.4,466.6 1550.1,459.2 1552.9,451.8 1555.7,444.4 1558.5,440.3 1561.2,446.3 1564,453.6 1566.8,459.2 1570.5,462.9 1574.2,466.6 1577.9,469.3 1580.6,471.2 1582.5,461 1584.3,446.3 1586.2,433.3 1588,430.6 1590.8,433.3 1594.5,437 1597.3,450 1599.7,470.3 1601.9,482.3 1603.7,468.4 1605.6,451.8 1607.8,437 1610,431.5 1613,429.3 1615.8,426 1618,432.6 1620.6,443.5 1622.8,451.2 1626.1,446.8 1629.4,441.4 1632.7,443.1 1636,445.7 1639.2,452.3 1642.5,458.9 1644.7,461.1 1646.9,454.5 1649.1,443.5 1651.3,430.4 1652.4,427.1 1654.6,437 1656.7,450.1 1660,461.1 1663.3,467.6 1666.6,470.9 1669.9,470.9 1673.2,472 1676.4,476.4 1679.7,481.8 1683,484 1686.3,485.1 1689.6,488.4 1692.8,493.9 1695.5,500.4 1697.2,511.4 1699.4,522.3 1701.2,525.6 1703.8,522.3 1707.1,515.8 1709.3,512.5 1711.4,520.1 1713.6,528.9 1716.5,538.7 1719.1,528.9 1721.7,517.9 1724.4,512.5 1726.8,520.1 1728.9,526.7 1731.8,532.2 1734.4,526.7 1737,523.4 1738.8,522.3 1740.5,533.3 1742.1,548.6 1743.6,559.5 1745.4,565 1748.6,562.8 1753,561.3 1757.4,562.8 1761.8,565 1767.2,567.8 1771.6,565.6 1774.9,563.9 1778.2,565 1782.6,566.1 1791.3,565.6 1800.1,565.6 1805.5,562.8 1809.9,558.4 1813.2,560.6 1817.6,562.8 1821.9,565 1825,567.2 1825.4,545.3 1827.4,544.2 1828.1,500.4" fill="none" stroke="#bf382e" stroke-width="1.4" stroke-linejoin="miter" stroke-miterlimit="3"/>
<polyline points="1321.6,533.1 1324.8,530.3 1328.1,527.9 1330.3,534.9 1333.1,544.2 1335.9,549.7 1339.6,544.2 1343.3,538.6 1346.9,534 1349.7,531.2 1352.5,538.6 1355.3,544.2 1357.5,548.8 1359.5,540.5 1361.7,529.4 1364.5,522 1367.3,517.4 1370,514.6 1371.9,513.7 1373.7,518.3 1375.6,529.4 1378.4,540.5 1382,540.8 1385.7,540.8 1389.4,542.3 1393.1,542.3 1395.9,537.7 1399.6,532.2 1403.3,532.7 1406.1,533.1 1409.8,535.9 1412.5,538.6 1414.9,540.5 1417.1,533.1 1419.9,522 1422.1,513.7 1424.2,522 1426.4,534.9 1429.2,545.1 1431.6,536.8 1433.8,527.5 1436.5,518.3 1438.4,525.7 1440.2,534.9 1443,542.3 1446.7,544.2 1450.4,546.9 1453.2,542.3 1455.9,536.8 1458.7,529.4 1461.5,522 1464.2,514.6 1467,508.1 1469.8,500.8 1472.6,494.3 1474.4,483.2 1475.7,464.7 1476.8,446.3 1478.1,427.8 1479.4,410.2 1480.5,427.8 1481.4,446.3 1482.4,464.7 1483.3,483.2 1484,501.7 1484.9,520.1 1485.9,538.6 1486.8,549.7 1488.3,538.6 1490.1,527.5 1492,518.3 1493.8,512.8 1495.7,520.1 1497.5,529.4 1499.3,538.6 1502.1,543.2 1505.8,545.1 1509.5,547.9 1513.2,553.4 1516.9,556.7 1521.5,558 1525.2,553.4 1528.9,546 1531.7,538.6 1534.4,529.4 1537.2,522 1540,527.5 1542.8,534.9 1546.5,542.3 1549.2,547.9 1551.4,551.2 1553.8,538.6 1555.7,520.1 1557.2,501.7 1558.5,485.1 1559.9,496.1 1561.6,510.9 1564,525.7 1566.8,538.6 1569.5,547.9 1572.3,556.2 1576,549.7 1579.7,544.2 1583.4,549.7 1587.1,556.2 1590.8,556.2 1594.5,556.2 1598.2,549.7 1601.9,542.3 1605.6,534 1610,523.8 1611.9,533.3 1615.2,544.2 1618.4,547.5 1622.8,548.6 1626.1,546.4 1629.4,545.3 1633.8,550.8 1637,555.1 1640.3,548.6 1644.3,542 1648,550.8 1652.4,557.3 1655.6,553 1660,546.4 1664.4,539.8 1668.8,537.6 1673.2,539.8 1676.4,528.9 1678.6,517.9 1680.8,512.5 1683,520.1 1685.2,533.3 1688,546.4 1691.8,551.9 1695.5,556.2 1696.1,535.4 1697.2,515.8 1698.3,493.9 1699.4,472 1700.5,450.1 1701.6,432.6 1702.5,426 1703.8,441.4 1705.3,461.1 1707.1,482.9 1708.2,498.2 1709.3,511.4 1710.4,472 1711.4,439.2 1712.5,406.3 1713.6,362.6 1714.7,329.8 1715.8,296.9 1716.9,279.4 1718,307.9 1719.1,340.7 1720.2,384.5 1721.3,417.3 1722.4,450.1 1723.5,482.9 1724.6,511.4 1727.9,509.2 1731.8,505.9 1732.7,472 1734,428.2 1735.5,384.5 1736.6,351.6 1737.7,336.3 1738.8,325.4 1745.4,325.4 1746.5,296.9 1747.5,264.1 1748.6,231.3 1749.7,209.4 1750.8,187.5 1751.9,161.3 1752.8,147.7 1753.7,170 1754.8,209.4 1755.9,253.2 1757.2,296.9 1758.5,340.7 1759.6,373.5 1760.2,414 1761.1,384.5 1762.4,329.8 1764,286 1765.1,253.2 1766.1,226.9 1767.2,203.9 1768.3,222.5 1769.4,248.8 1770.7,279.4 1772.1,310.1 1773.4,340.7 1774.9,382.3 1775.6,362.6 1776.4,329.8 1777.7,286 1779.1,242.2 1779.9,205 1780.8,165.6 1781.7,136.8 1783,161.3 1784.3,183.2 1785.8,209.4 1787.4,235.7 1788.7,254.3 1790.2,235.7 1791.8,216 1793.5,194.1 1795.3,177 1796.8,191.9 1797.9,222.5 1799,257.5 1800.1,292.6 1801.2,327.6 1802.3,362.6 1803.3,395.4 1804.4,417.3 1806.2,439.2 1807.7,456.7 1809.9,476.4 1813.2,473.1 1817.6,469.8 1819.3,489.5 1820.9,509.2 1822.4,528.9 1824.1,544.2 1825.9,544.2 1827.9,543.1" fill="none" stroke="#2a2a2a" stroke-width="1.3" stroke-linejoin="miter" stroke-miterlimit="3"/>
<line x1="1852.5" y1="51" x2="1852.5" y2="593.5" stroke="#1c1c1c" stroke-width="1.5"/>
<line x1="1295.8" y1="592.5" x2="1853.2" y2="592.5" stroke="#1c1c1c" stroke-width="1.5"/>
<line x1="1852.6" y1="459.5" x2="1856.8" y2="459.5" stroke="#1c1c1c" stroke-width="1.5"/>
<text x="1860.3" y="464.3" font-size="15" class="tk">0.02</text>
<line x1="1852.6" y1="349.5" x2="1856.8" y2="349.5" stroke="#1c1c1c" stroke-width="1.5"/>
<text x="1860.3" y="355" font-size="15" class="tk">0.04</text>
<line x1="1852.6" y1="240.5" x2="1856.8" y2="240.5" stroke="#1c1c1c" stroke-width="1.5"/>
<text x="1860.3" y="245.6" font-size="15" class="tk">0.06</text>
<line x1="1852.6" y1="131.5" x2="1856.8" y2="131.5" stroke="#1c1c1c" stroke-width="1.5"/>
<text x="1860.3" y="136.3" font-size="15" class="tk">0.08</text>
<line x1="1314.5" y1="592.9" x2="1314.5" y2="597" stroke="#1c1c1c" stroke-width="1.5"/>
<text x="1314.7" y="609.6" font-size="15" text-anchor="middle" class="tk">1</text>
<line x1="1443.5" y1="592.9" x2="1443.5" y2="597" stroke="#1c1c1c" stroke-width="1.5"/>
<text x="1443" y="609.6" font-size="15" text-anchor="middle" class="tk">1785361</text>
<line x1="1571.5" y1="592.9" x2="1571.5" y2="597" stroke="#1c1c1c" stroke-width="1.5"/>
<text x="1571.4" y="609.6" font-size="15" text-anchor="middle" class="tk">3570720</text>
<line x1="1699.5" y1="592.9" x2="1699.5" y2="597" stroke="#1c1c1c" stroke-width="1.5"/>
<text x="1699.8" y="609.6" font-size="15" text-anchor="middle" class="tk">5356080</text>
<text x="1574" y="629.5" font-size="19.3" text-anchor="middle" class="lab">Position in chromosome</text>
<text x="1911.5" y="323.7" font-size="19.3" text-anchor="middle" transform="rotate(-90 1911.5 323.7)" class="lab">Relative abundance</text>
</g>
<g id="panel-b">
<text transform="translate(-0.15 707.04) scale(0.3354 0.3286)" font-size="100" font-weight="bold" class="dj ltr">B</text>
<text x="338" y="720.5" font-size="26.4" text-anchor="middle" class="dj ttl">Left side telomere</text>
<polyline points="79.1,770.5 100.7,773.7 122.3,913.8 143.9,864.6 165.4,877.2 187,874 208.6,902.3 230.2,949.3 251.8,994.3 273.4,965 295,959.8 316.6,948.3 338.2,992.2 359.8,1086.3 381.4,1066.4 402.9,1084.2 424.5,1151.1 446.1,1100.9 467.7,1107.2 489.3,1106.1 510.9,1232.6 532.5,1200.2 554.1,1185.6 575.7,1169.9 597.2,1162.6" fill="none" stroke="#3c5ca6" stroke-width="4.2" stroke-linejoin="round" stroke-linecap="butt"/>
<polyline points="79.1,771.6 80.8,774.7 83,778.9 85.6,783.9 88.5,789.5 91.6,795.3 94.8,801 97.8,806.5 100.7,811.3 103.4,815.7 106.1,819.9 108.8,823.9 111.5,827.8 114.2,831.7 116.9,835.4 119.6,839.1 122.3,842.7 125,846.2 127.7,849.7 130.4,853.1 133.1,856.4 135.8,859.6 138.5,862.8 141.2,865.8 143.9,868.8 146.6,871.7 149.3,874.5 152,877.2 154.7,879.8 157.4,882.3 160.1,884.8 162.8,887.3 165.4,889.7 168.1,892.1 170.8,894.4 173.5,896.7 176.2,899 178.9,901.2 181.6,903.3 184.3,905.4 187,907.5 189.7,909.5 192.4,911.4 195.1,913.2 197.8,915 200.5,916.8 203.2,918.5 205.9,920.3 208.6,922.1 211.3,924 214,925.8 216.7,927.7 219.4,929.6 222.1,931.4 224.8,933.2 227.5,935 230.2,936.8 232.9,938.4 235.6,940 238.3,941.6 241,943.1 243.7,944.6 246.4,946.1 249.1,947.7 251.8,949.3 254.5,950.9 257.2,952.6 259.9,954.2 262.6,955.9 265.3,957.6 268,959.3 270.7,961.1 273.4,962.9 276.1,964.7 278.8,966.6 281.5,968.5 284.2,970.4 286.9,972.4 289.6,974.4 292.3,976.5 295,978.6 297.7,980.8 300.4,983.1 303.1,985.4 305.8,987.8 308.5,990.2 311.2,992.6 313.9,995 316.6,997.4 319.3,999.7 322,1002.1 324.7,1004.4 327.4,1006.7 330.1,1009.1 332.8,1011.4 335.5,1013.8 338.2,1016.2 340.9,1018.6 343.6,1021 346.3,1023.5 349,1025.9 351.7,1028.4 354.4,1030.9 357.1,1033.4 359.8,1036.1 362.5,1038.8 365.2,1041.6 367.9,1044.5 370.6,1047.5 373.3,1050.4 376,1053.3 378.7,1056.2 381.4,1059.1 384,1061.9 386.7,1064.6 389.4,1067.3 392.1,1069.9 394.8,1072.6 397.5,1075.4 400.2,1078.2 402.9,1081 405.6,1084 408.3,1087.1 411,1090.3 413.7,1093.5 416.4,1096.7 419.1,1099.9 421.8,1103.1 424.5,1106.1 427.2,1109.1 429.9,1112.1 432.6,1115 435.3,1117.9 438,1120.8 440.7,1123.6 443.4,1126.4 446.1,1129.1 448.8,1131.9 451.5,1134.6 454.2,1137.3 456.9,1139.9 459.6,1142.5 462.3,1145.1 465,1147.6 467.7,1150 470.4,1152.5 473.1,1154.9 475.8,1157.2 478.5,1159.5 481.2,1161.7 483.9,1163.9 486.6,1165.9 489.3,1167.8 492,1169.6 494.7,1171.2 497.4,1172.8 500.1,1174.2 502.8,1175.6 505.5,1176.9 508.2,1178.1 510.9,1179.3 513.6,1180.5 516.3,1181.6 519,1182.6 521.7,1183.6 524.4,1184.5 527.1,1185.3 529.8,1186 532.5,1186.6 535.2,1187.1 537.9,1187.5 540.6,1187.9 543.3,1188.1 546,1188.2 548.7,1188.2 551.4,1188 554.1,1187.7 556.8,1187.2 559.5,1186.7 562.2,1186 564.9,1185.2 567.6,1184.2 570.3,1183.1 573,1181.8 575.7,1180.4 578.5,1178.5 581.6,1176.2 584.7,1173.7 587.8,1171 590.7,1168.4 593.4,1166 595.6,1164 597.2,1162.6" fill="none" stroke="#c43e33" stroke-width="1.4"/>
<line x1="52.5" y1="734" x2="52.5" y2="1276.5" stroke="#1c1c1c" stroke-width="1.5"/>
<line x1="52.2" y1="1275.5" x2="622.7" y2="1275.5" stroke="#1c1c1c" stroke-width="1.5"/>
<line x1="49" y1="1229.5" x2="52.8" y2="1229.5" stroke="#1c1c1c" stroke-width="1.5"/>
<text x="45.5" y="1234.8" font-size="15" text-anchor="end" class="tk">6</text>
<line x1="49" y1="1124.5" x2="52.8" y2="1124.5" stroke="#1c1c1c" stroke-width="1.5"/>
<text x="45.5" y="1130.2" font-size="15" text-anchor="end" class="tk">7</text>
<line x1="49" y1="1020.5" x2="52.8" y2="1020.5" stroke="#1c1c1c" stroke-width="1.5"/>
<text x="45.5" y="1025.7" font-size="15" text-anchor="end" class="tk">8</text>
<line x1="49" y1="915.5" x2="52.8" y2="915.5" stroke="#1c1c1c" stroke-width="1.5"/>
<text x="45.5" y="921.1" font-size="15" text-anchor="end" class="tk">9</text>
<line x1="49" y1="811.5" x2="52.8" y2="811.5" stroke="#1c1c1c" stroke-width="1.5"/>
<text x="45.5" y="816.6" font-size="15" text-anchor="end" class="tk">10</text>
<line x1="57.5" y1="1275.9" x2="57.5" y2="1280" stroke="#1c1c1c" stroke-width="1.5"/>
<text x="57.5" y="1292.7" font-size="15" text-anchor="middle" class="tk">0.0</text>
<line x1="165.5" y1="1275.9" x2="165.5" y2="1280" stroke="#1c1c1c" stroke-width="1.5"/>
<text x="165.4" y="1292.7" font-size="15" text-anchor="middle" class="tk">0.5</text>
<line x1="273.5" y1="1275.9" x2="273.5" y2="1280" stroke="#1c1c1c" stroke-width="1.5"/>
<text x="273.4" y="1292.7" font-size="15" text-anchor="middle" class="tk">1.0</text>
<line x1="381.5" y1="1275.9" x2="381.5" y2="1280" stroke="#1c1c1c" stroke-width="1.5"/>
<text x="381.4" y="1292.7" font-size="15" text-anchor="middle" class="tk">1.5</text>
<line x1="489.5" y1="1275.9" x2="489.5" y2="1280" stroke="#1c1c1c" stroke-width="1.5"/>
<text x="489.3" y="1292.7" font-size="15" text-anchor="middle" class="tk">2.0</text>
<line x1="597.5" y1="1275.9" x2="597.5" y2="1280" stroke="#1c1c1c" stroke-width="1.5"/>
<text x="597.2" y="1292.7" font-size="15" text-anchor="middle" class="tk">2.5</text>
<text x="338" y="1312.9" font-size="19.3" text-anchor="middle" class="lab">Distance from telomere (Mb)</text>
<text x="20.5" y="1005" font-size="19.3" text-anchor="middle" transform="rotate(-90 20.5 1005)" class="lab">Number of genes</text>
<rect x="69" y="1084.1" width="34.5" height="8" fill="#3c5ca6" stroke="none" stroke-width="0"/>
<rect x="69" y="1107.1" width="34.5" height="5.6" fill="#bd3b33" stroke="none" stroke-width="0"/>
<text x="110.3" y="1092.2" font-size="14.8" class="dj lg">Chromosomes average</text>
<text x="110.3" y="1113.2" font-size="14.8" class="dj lg">Polynomial fit</text>
<text x="110.3" y="1133" font-size="14.8" class="dj lg">R<tspan font-size="9.5" dy="-5.5">2</tspan><tspan dy="5.5"> = 0.94</tspan></text>
<text x="959.5" y="720.5" font-size="26.4" text-anchor="middle" class="dj ttl">Right side telomere</text>
<polyline points="700,1084.2 721.6,1071.6 743.2,1052.8 764.8,1121.8 786.4,1142.7 808,1121.8 829.6,1182.5 851.2,1050.7 872.8,1014.1 894.4,1050.7 915.9,996.4 937.5,1005.8 959.1,923.2 980.7,933.6 1002.3,955.6 1023.9,917.9 1045.5,796.7 1067.1,814.4 1088.7,861.5 1110.3,898.1 1131.8,864.6 1153.4,815.5 1175,798.8 1196.6,852.1 1218.2,777.8" fill="none" stroke="#3c5ca6" stroke-width="4.2" stroke-linejoin="round"/>
<polyline points="700,1046.5 701.7,1049.5 703.9,1053.6 706.6,1058.4 709.5,1063.8 712.6,1069.3 715.7,1074.8 718.8,1079.8 721.6,1084.2 724.3,1088 727,1091.6 729.7,1095 732.4,1098.2 735.1,1101.3 737.8,1104.1 740.5,1106.8 743.2,1109.3 745.9,1111.6 748.6,1113.7 751.3,1115.6 754,1117.4 756.7,1119 759.4,1120.4 762.1,1121.7 764.8,1122.9 767.5,1123.9 770.2,1124.7 772.9,1125.4 775.6,1126 778.3,1126.3 781,1126.6 783.7,1126.6 786.4,1126.5 789.1,1126.2 791.8,1125.8 794.5,1125.1 797.2,1124.3 799.9,1123.4 802.6,1122.3 805.3,1121.1 808,1119.7 810.7,1118.2 813.4,1116.5 816.1,1114.7 818.8,1112.7 821.5,1110.6 824.2,1108.5 826.9,1106.3 829.6,1104 832.3,1101.8 835,1099.6 837.7,1097.3 840.4,1094.9 843.1,1092.4 845.8,1089.8 848.5,1087.1 851.2,1084.2 853.9,1081 856.6,1077.6 859.3,1074.1 862,1070.4 864.7,1066.7 867.4,1063 870.1,1059.4 872.8,1055.9 875.5,1052.7 878.2,1049.5 880.9,1046.4 883.6,1043.4 886.3,1040.4 889,1037.3 891.7,1034.1 894.4,1030.9 897.1,1027.5 899.8,1024 902.5,1020.5 905.2,1017 907.9,1013.4 910.6,1009.8 913.3,1006.2 915.9,1002.6 918.6,999 921.3,995.3 924,991.6 926.7,987.9 929.4,984.2 932.1,980.5 934.8,976.9 937.5,973.4 940.2,969.8 942.9,966.3 945.6,962.8 948.3,959.3 951,955.9 953.7,952.5 956.4,949.3 959.1,946.2 961.8,943.2 964.5,940.3 967.2,937.5 969.9,934.7 972.6,932.1 975.3,929.4 978,926.8 980.7,924.2 983.4,921.6 986.1,919 988.8,916.4 991.5,913.9 994.2,911.4 996.9,909 999.6,906.6 1002.3,904.3 1005,902.2 1007.7,900.1 1010.4,898.1 1013.1,896.1 1015.8,894.2 1018.5,892.3 1021.2,890.5 1023.9,888.7 1026.6,886.9 1029.3,885.1 1032,883.3 1034.7,881.6 1037.4,879.9 1040.1,878.3 1042.8,876.7 1045.5,875.1 1048.2,873.5 1050.9,872 1053.6,870.6 1056.3,869.1 1059,867.7 1061.7,866.3 1064.4,864.9 1067.1,863.6 1069.8,862.2 1072.5,860.8 1075.2,859.4 1077.9,858.1 1080.6,856.8 1083.3,855.5 1086,854.3 1088.7,853.1 1091.4,852 1094.1,851 1096.8,850.1 1099.5,849.2 1102.2,848.3 1104.9,847.5 1107.6,846.6 1110.3,845.8 1113,845 1115.7,844.2 1118.4,843.5 1121.1,842.7 1123.8,842 1126.5,841.2 1129.2,840.4 1131.8,839.5 1134.5,838.6 1137.2,837.6 1139.9,836.5 1142.6,835.5 1145.3,834.4 1148,833.3 1150.7,832.2 1153.4,831.2 1156.1,830.1 1158.8,829.1 1161.5,828.2 1164.2,827.2 1166.9,826.2 1169.6,825.1 1172.3,824 1175,822.8 1177.7,821.5 1180.4,820.1 1183.1,818.7 1185.8,817.2 1188.5,815.8 1191.2,814.2 1193.9,812.8 1196.6,811.3 1199.5,809.8 1202.5,808.2 1205.7,806.5 1208.8,804.8 1211.7,803.3 1214.3,801.9 1216.5,800.7 1218.2,799.8" fill="none" stroke="#c43e33" stroke-width="1.4"/>
<line x1="1244.5" y1="734" x2="1244.5" y2="1276.5" stroke="#1c1c1c" stroke-width="1.5"/>
<line x1="674.7" y1="1275.5" x2="1245.1" y2="1275.5" stroke="#1c1c1c" stroke-width="1.5"/>
<line x1="1244.5" y1="1229.5" x2="1248.3" y2="1229.5" stroke="#1c1c1c" stroke-width="1.5"/>
<text x="1251.5" y="1234.8" font-size="15" class="tk">6</text>
<line x1="1244.5" y1="1124.5" x2="1248.3" y2="1124.5" stroke="#1c1c1c" stroke-width="1.5"/>
<text x="1251.5" y="1130.2" font-size="15" class="tk">7</text>
<line x1="1244.5" y1="1020.5" x2="1248.3" y2="1020.5" stroke="#1c1c1c" stroke-width="1.5"/>
<text x="1251.5" y="1025.7" font-size="15" class="tk">8</text>
<line x1="1244.5" y1="915.5" x2="1248.3" y2="915.5" stroke="#1c1c1c" stroke-width="1.5"/>
<text x="1251.5" y="921.1" font-size="15" class="tk">9</text>
<line x1="1244.5" y1="811.5" x2="1248.3" y2="811.5" stroke="#1c1c1c" stroke-width="1.5"/>
<text x="1251.5" y="816.6" font-size="15" class="tk">10</text>
<line x1="700.5" y1="1275.9" x2="700.5" y2="1280" stroke="#1c1c1c" stroke-width="1.5"/>
<text x="700" y="1292.7" font-size="15" text-anchor="middle" class="tk">-2.5</text>
<line x1="808.5" y1="1275.9" x2="808.5" y2="1280" stroke="#1c1c1c" stroke-width="1.5"/>
<text x="808" y="1292.7" font-size="15" text-anchor="middle" class="tk">-2.0</text>
<line x1="915.5" y1="1275.9" x2="915.5" y2="1280" stroke="#1c1c1c" stroke-width="1.5"/>
<text x="915.9" y="1292.7" font-size="15" text-anchor="middle" class="tk">-1.5</text>
<line x1="1023.5" y1="1275.9" x2="1023.5" y2="1280" stroke="#1c1c1c" stroke-width="1.5"/>
<text x="1023.9" y="1292.7" font-size="15" text-anchor="middle" class="tk">-1.0</text>
<line x1="1131.5" y1="1275.9" x2="1131.5" y2="1280" stroke="#1c1c1c" stroke-width="1.5"/>
<text x="1131.8" y="1292.7" font-size="15" text-anchor="middle" class="tk">-0.5</text>
<line x1="1239.5" y1="1275.9" x2="1239.5" y2="1280" stroke="#1c1c1c" stroke-width="1.5"/>
<text x="1239.8" y="1292.7" font-size="15" text-anchor="middle" class="tk">0.0</text>
<text x="959.5" y="1312.9" font-size="19.3" text-anchor="middle" class="lab">Distance from telomere (Mb)</text>
<text x="1281.5" y="1005" font-size="19.3" text-anchor="middle" transform="rotate(-90 1281.5 1005)" class="lab">Number of genes</text>
<rect x="1015.6" y="1084.1" width="34.5" height="8" fill="#3c5ca6" stroke="none" stroke-width="0"/>
<rect x="1015.6" y="1107.1" width="34.5" height="5.6" fill="#bd3b33" stroke="none" stroke-width="0"/>
<text x="1056.8" y="1092.2" font-size="14.8" class="dj lg">Chromosomes average</text>
<text x="1056.8" y="1113.2" font-size="14.8" class="dj lg">Polynomial fit</text>
<text x="1056.8" y="1133" font-size="14.8" class="dj lg">R<tspan font-size="9.5" dy="-5.5">2</tspan><tspan dy="5.5"> = 0.90</tspan></text>
</g>
<g id="panel-c">
<text transform="translate(1297.56 706.72) scale(0.3470 0.3275)" font-size="100" font-weight="bold" class="dj ltr">C</text>
<text x="1629" y="721" font-size="26.4" text-anchor="middle" class="dj ttl">Gene orientation</text>
<rect x="1383.7" y="919.5" width="232.5" height="356.4" fill="#739cef" stroke="#111" stroke-width="1.3"/>
<rect x="1642.4" y="890.7" width="232.7" height="385.2" fill="#bdd5e4" stroke="#111" stroke-width="1.3"/>
<line x1="1344.5" y1="735" x2="1344.5" y2="1276.5" stroke="#1c1c1c" stroke-width="1.5"/>
<line x1="1344.1" y1="1275.5" x2="1914.5" y2="1275.5" stroke="#1c1c1c" stroke-width="1.5"/>
<line x1="1341" y1="1193.5" x2="1344.7" y2="1193.5" stroke="#1c1c1c" stroke-width="1.5"/>
<text x="1337.5" y="1199" font-size="15" text-anchor="end" class="tk">40</text>
<line x1="1341" y1="1049.5" x2="1344.7" y2="1049.5" stroke="#1c1c1c" stroke-width="1.5"/>
<text x="1337.5" y="1054.7" font-size="15" text-anchor="end" class="tk">45</text>
<line x1="1341" y1="905.5" x2="1344.7" y2="905.5" stroke="#1c1c1c" stroke-width="1.5"/>
<text x="1337.5" y="910.4" font-size="15" text-anchor="end" class="tk">50</text>
<line x1="1341" y1="760.5" x2="1344.7" y2="760.5" stroke="#1c1c1c" stroke-width="1.5"/>
<text x="1337.5" y="766.1" font-size="15" text-anchor="end" class="tk">55</text>
<line x1="1499.5" y1="1275.9" x2="1499.5" y2="1280" stroke="#1c1c1c" stroke-width="1.5"/>
<text x="1499.9" y="1292.7" font-size="15" text-anchor="middle" class="tk">Plus</text>
<line x1="1758.5" y1="1275.9" x2="1758.5" y2="1280" stroke="#1c1c1c" stroke-width="1.5"/>
<text x="1758.5" y="1292.7" font-size="15" text-anchor="middle" class="tk">Minus</text>
<text x="1629" y="1314" font-size="19.3" text-anchor="middle" class="lab">Strand</text>
<text x="1312" y="1005" font-size="19.3" text-anchor="middle" transform="rotate(-90 1312 1005)" class="lab">Percentage</text>
<text x="1507.5" y="856.5" font-size="20.6" text-anchor="middle" class="dj val">23,924 (49.5 %)</text>
<text x="1766" y="856.5" font-size="20.6" text-anchor="middle" class="dj val">24,413 (50.5 %)</text>
</g>
<g id="panel-d">
<text transform="translate(-0.10 1403.24) scale(0.3288 0.3325)" font-size="100" font-weight="bold" class="dj ltr">D</text>
<text x="340" y="1417.4" font-size="26.4" text-anchor="middle" class="dj ttl">Gene orientation changes</text>
<rect x="86.3" y="1591.8" width="46.4" height="355.2" fill="#bdd5e4" stroke="#4a6699" stroke-width="1.4"/>
<rect x="137.4" y="1642.6" width="46.4" height="304.4" fill="#bdd5e4" stroke="#4a6699" stroke-width="1.4"/>
<rect x="188.6" y="1510.7" width="46.4" height="436.3" fill="#bdd5e4" stroke="#4a6699" stroke-width="1.4"/>
<rect x="239.7" y="1697" width="46.4" height="250" fill="#bdd5e4" stroke="#4a6699" stroke-width="1.4"/>
<rect x="290.8" y="1762.3" width="46.4" height="184.7" fill="#bdd5e4" stroke="#4a6699" stroke-width="1.4"/>
<rect x="341.9" y="1874.9" width="46.4" height="72.1" fill="#bdd5e4" stroke="#4a6699" stroke-width="1.4"/>
<rect x="393.1" y="1918.7" width="46.4" height="28.3" fill="#bdd5e4" stroke="#4a6699" stroke-width="1.4"/>
<rect x="444.2" y="1940.4" width="46.4" height="6.6" fill="#bdd5e4" stroke="#4a6699" stroke-width="1.4"/>
<rect x="495.3" y="1945.7" width="46.4" height="1.3" fill="#bdd5e4" stroke="#4a6699" stroke-width="1.4"/>
<line x1="56.4" y1="1946.5" x2="622.7" y2="1946.5" stroke="#444" stroke-width="1.1"/>
<polyline points="110,1943.8 161.1,1918.2 212.3,1831.8 263.4,1678.2 314.5,1543.8 365.6,1543.8 416.8,1678.2 467.9,1831.8 519,1918.2 570.2,1943.8" fill="none" stroke="#c4423a" stroke-width="1.5"/>
<line x1="56.5" y1="1430.2" x2="56.5" y2="1972.2" stroke="#1c1c1c" stroke-width="1.5"/>
<line x1="55.8" y1="1971.5" x2="622.7" y2="1971.5" stroke="#1c1c1c" stroke-width="1.5"/>
<line x1="52.6" y1="1947.5" x2="56.4" y2="1947.5" stroke="#1c1c1c" stroke-width="1.5"/>
<text x="49" y="1952.3" font-size="15" text-anchor="end" class="tk">0.0</text>
<line x1="52.6" y1="1783.5" x2="56.4" y2="1783.5" stroke="#1c1c1c" stroke-width="1.5"/>
<text x="49" y="1788.5" font-size="15" text-anchor="end" class="tk">0.1</text>
<line x1="52.6" y1="1619.5" x2="56.4" y2="1619.5" stroke="#1c1c1c" stroke-width="1.5"/>
<text x="49" y="1624.6" font-size="15" text-anchor="end" class="tk">0.2</text>
<line x1="52.6" y1="1455.5" x2="56.4" y2="1455.5" stroke="#1c1c1c" stroke-width="1.5"/>
<text x="49" y="1460.8" font-size="15" text-anchor="end" class="tk">0.3</text>
<line x1="110.5" y1="1971.6" x2="110.5" y2="1975.6" stroke="#1c1c1c" stroke-width="1.5"/>
<text x="110" y="1989" font-size="15" text-anchor="middle" class="tk">0</text>
<line x1="161.5" y1="1971.6" x2="161.5" y2="1975.6" stroke="#1c1c1c" stroke-width="1.5"/>
<text x="161.1" y="1989" font-size="15" text-anchor="middle" class="tk">1</text>
<line x1="212.5" y1="1971.6" x2="212.5" y2="1975.6" stroke="#1c1c1c" stroke-width="1.5"/>
<text x="212.3" y="1989" font-size="15" text-anchor="middle" class="tk">2</text>
<line x1="263.5" y1="1971.6" x2="263.5" y2="1975.6" stroke="#1c1c1c" stroke-width="1.5"/>
<text x="263.4" y="1989" font-size="15" text-anchor="middle" class="tk">3</text>
<line x1="314.5" y1="1971.6" x2="314.5" y2="1975.6" stroke="#1c1c1c" stroke-width="1.5"/>
<text x="314.5" y="1989" font-size="15" text-anchor="middle" class="tk">4</text>
<line x1="365.5" y1="1971.6" x2="365.5" y2="1975.6" stroke="#1c1c1c" stroke-width="1.5"/>
<text x="365.6" y="1989" font-size="15" text-anchor="middle" class="tk">5</text>
<line x1="416.5" y1="1971.6" x2="416.5" y2="1975.6" stroke="#1c1c1c" stroke-width="1.5"/>
<text x="416.8" y="1989" font-size="15" text-anchor="middle" class="tk">6</text>
<line x1="467.5" y1="1971.6" x2="467.5" y2="1975.6" stroke="#1c1c1c" stroke-width="1.5"/>
<text x="467.9" y="1989" font-size="15" text-anchor="middle" class="tk">7</text>
<line x1="519.5" y1="1971.6" x2="519.5" y2="1975.6" stroke="#1c1c1c" stroke-width="1.5"/>
<text x="519" y="1989" font-size="15" text-anchor="middle" class="tk">8</text>
<line x1="570.5" y1="1971.6" x2="570.5" y2="1975.6" stroke="#1c1c1c" stroke-width="1.5"/>
<text x="570.2" y="1989" font-size="15" text-anchor="middle" class="tk">9</text>
<text x="340" y="2008.5" font-size="19.3" text-anchor="middle" class="lab">Changes in orientation per 10 genes</text>
<text x="20.3" y="1702" font-size="19.3" text-anchor="middle" transform="rotate(-90 20.3 1702)" class="lab">Density</text>
<rect x="449.6" y="1566.3" width="32.6" height="8.4" fill="#bdd5e4" stroke="#4a6699" stroke-width="1.3"/>
<rect x="449.3" y="1588.8" width="33.3" height="5.6" fill="#bd3b33" stroke="none" stroke-width="0"/>
<text x="488.7" y="1574.5" font-size="14.8" class="dj lg">Observed</text>
<text x="488.7" y="1595.5" font-size="14.8" class="dj lg">Expected</text>
<text x="524.4" y="1616.4" font-size="14.8" text-anchor="middle" class="dj lg">(Independent orientation)</text>
</g>
<g id="panel-e">
<text transform="translate(657.61 1402.94) scale(0.3411 0.3325)" font-size="100" font-weight="bold" class="dj ltr">E</text>
<text x="993.5" y="1417.4" font-size="26.4" text-anchor="middle" class="dj ttl">Genes in co-oriented blocks</text>
<line x1="710.5" y1="1946.5" x2="1275.3" y2="1946.5" stroke="#444" stroke-width="1.1"/>
<polygon points="736,1947.6 736,1470.3 736,1455 737.8,1455 745.5,1580.6 754.3,1639.7 763.2,1649.5 772,1670.3 780.9,1668.1 789.7,1673.5 798.6,1673.5 807.4,1717.8 816.3,1711.8 825.1,1724.4 834,1711.8 842.8,1732.6 851.7,1762.1 860.5,1789.4 869.4,1772.5 878.2,1808.5 887.1,1793.8 895.9,1841.3 904.8,1851.2 913.6,1829.8 922.5,1847.3 931.3,1896.5 940.2,1879.6 949,1882.3 957.9,1889.4 966.8,1890 975.6,1915.6 984.5,1915.6 993.3,1930.4 1002.2,1927.7 1011,1930.4 1019.9,1922.2 1028.7,1921.7 1037.6,1924.9 1046.4,1928.2 1055.3,1923.3 1064.1,1936.4 1073,1931.5 1081.8,1931 1090.7,1935.3 1099.5,1940.2 1108.4,1934.8 1117.2,1929.3 1126.1,1939.7 1134.9,1939.7 1143.8,1945.2 1152.6,1939.1 1161.5,1945.2 1170.3,1939.1 1179.2,1946.8 1188.1,1946.8 1196.9,1946.8 1205.8,1946.8 1214.6,1946.8 1223.5,1946.8 1232.3,1946.8 1241.2,1946.8 1250,1938.6 1250,1947.6" fill="#bdd5e4" stroke="none" stroke-width="0"/>
<polyline points="736,1470.3 736,1455 737.8,1455 745.5,1580.6 754.3,1639.7 763.2,1649.5 772,1670.3 780.9,1668.1 789.7,1673.5 798.6,1673.5 807.4,1717.8 816.3,1711.8 825.1,1724.4 834,1711.8 842.8,1732.6 851.7,1762.1 860.5,1789.4 869.4,1772.5 878.2,1808.5 887.1,1793.8 895.9,1841.3 904.8,1851.2 913.6,1829.8 922.5,1847.3 931.3,1896.5 940.2,1879.6 949,1882.3 957.9,1889.4 966.8,1890 975.6,1915.6 984.5,1915.6 993.3,1930.4 1002.2,1927.7 1011,1930.4 1019.9,1922.2 1028.7,1921.7 1037.6,1924.9 1046.4,1928.2 1055.3,1923.3 1064.1,1936.4 1073,1931.5 1081.8,1931 1090.7,1935.3 1099.5,1940.2 1108.4,1934.8 1117.2,1929.3 1126.1,1939.7 1134.9,1939.7 1143.8,1945.2 1152.6,1939.1 1161.5,1945.2 1170.3,1939.1 1179.2,1946.8 1188.1,1946.8 1196.9,1946.8 1205.8,1946.8 1214.6,1946.8 1223.5,1946.8 1232.3,1946.8 1241.2,1946.8 1250,1938.6" fill="none" stroke="#3b5897" stroke-width="1.4" stroke-linejoin="round"/>
<line x1="710.5" y1="1430.2" x2="710.5" y2="1972.2" stroke="#1c1c1c" stroke-width="1.5"/>
<line x1="709.9" y1="1971.5" x2="1275.3" y2="1971.5" stroke="#1c1c1c" stroke-width="1.5"/>
<line x1="706.7" y1="1946.5" x2="710.5" y2="1946.5" stroke="#1c1c1c" stroke-width="1.5"/>
<text x="703.5" y="1952.1" font-size="15" text-anchor="end" class="tk">0.0</text>
<line x1="706.7" y1="1810.5" x2="710.5" y2="1810.5" stroke="#1c1c1c" stroke-width="1.5"/>
<text x="703.5" y="1815.5" font-size="15" text-anchor="end" class="tk">2.5</text>
<line x1="706.7" y1="1673.5" x2="710.5" y2="1673.5" stroke="#1c1c1c" stroke-width="1.5"/>
<text x="703.5" y="1678.8" font-size="15" text-anchor="end" class="tk">5.0</text>
<line x1="706.7" y1="1536.5" x2="710.5" y2="1536.5" stroke="#1c1c1c" stroke-width="1.5"/>
<text x="703.5" y="1542.2" font-size="15" text-anchor="end" class="tk">7.5</text>
<line x1="736.5" y1="1971.6" x2="736.5" y2="1975.6" stroke="#1c1c1c" stroke-width="1.5"/>
<text x="736.6" y="1989" font-size="15" text-anchor="middle" class="tk">1</text>
<line x1="772.5" y1="1971.6" x2="772.5" y2="1975.6" stroke="#1c1c1c" stroke-width="1.5"/>
<text x="772" y="1989" font-size="15" text-anchor="middle" class="tk">5</text>
<line x1="816.5" y1="1971.6" x2="816.5" y2="1975.6" stroke="#1c1c1c" stroke-width="1.5"/>
<text x="816.3" y="1989" font-size="15" text-anchor="middle" class="tk">10</text>
<line x1="860.5" y1="1971.6" x2="860.5" y2="1975.6" stroke="#1c1c1c" stroke-width="1.5"/>
<text x="860.5" y="1989" font-size="15" text-anchor="middle" class="tk">15</text>
<line x1="904.5" y1="1971.6" x2="904.5" y2="1975.6" stroke="#1c1c1c" stroke-width="1.5"/>
<text x="904.8" y="1989" font-size="15" text-anchor="middle" class="tk">20</text>
<line x1="949.5" y1="1971.6" x2="949.5" y2="1975.6" stroke="#1c1c1c" stroke-width="1.5"/>
<text x="949" y="1989" font-size="15" text-anchor="middle" class="tk">25</text>
<line x1="993.5" y1="1971.6" x2="993.5" y2="1975.6" stroke="#1c1c1c" stroke-width="1.5"/>
<text x="993.3" y="1989" font-size="15" text-anchor="middle" class="tk">30</text>
<line x1="1037.5" y1="1971.6" x2="1037.5" y2="1975.6" stroke="#1c1c1c" stroke-width="1.5"/>
<text x="1037.6" y="1989" font-size="15" text-anchor="middle" class="tk">35</text>
<line x1="1081.5" y1="1971.6" x2="1081.5" y2="1975.6" stroke="#1c1c1c" stroke-width="1.5"/>
<text x="1081.8" y="1989" font-size="15" text-anchor="middle" class="tk">40</text>
<line x1="1126.5" y1="1971.6" x2="1126.5" y2="1975.6" stroke="#1c1c1c" stroke-width="1.5"/>
<text x="1126.1" y="1989" font-size="15" text-anchor="middle" class="tk">45</text>
<line x1="1170.5" y1="1971.6" x2="1170.5" y2="1975.6" stroke="#1c1c1c" stroke-width="1.5"/>
<text x="1170.3" y="1989" font-size="15" text-anchor="middle" class="tk">50</text>
<line x1="1214.5" y1="1971.6" x2="1214.5" y2="1975.6" stroke="#1c1c1c" stroke-width="1.5"/>
<text x="1214.6" y="1989" font-size="15" text-anchor="middle" class="tk">55</text>
<line x1="1258.5" y1="1971.6" x2="1258.5" y2="1975.6" stroke="#1c1c1c" stroke-width="1.5"/>
<text x="1258.9" y="1989" font-size="15" text-anchor="middle" class="tk">60</text>
<text x="993.5" y="2008.5" font-size="19.3" text-anchor="middle" class="lab">Block size (number of genes)</text>
<text x="675" y="1700.3" font-size="19.3" text-anchor="middle" transform="rotate(-90 675 1700.3)" class="lab">Percentage of genes in the genome</text>
</g>
<g id="panel-f">
<text transform="translate(1289.07 1402.94) scale(0.3473 0.3286)" font-size="100" font-weight="bold" class="dj ltr">F</text>
<text x="1627.6" y="1417.4" font-size="26.4" text-anchor="middle" class="dj ttl">Cumulative distribution of genes</text>
<polygon points="1372.6,1947.6 1372.6,1902.5 1381.4,1869.1 1390.2,1841 1399,1813.9 1407.8,1788.6 1416.6,1763.2 1425.4,1738.2 1434.2,1713.2 1443,1692.3 1451.8,1674.6 1460.6,1653.4 1469.4,1631 1478.2,1610.6 1487,1594.7 1495.8,1581.1 1504.6,1566 1513.4,1554 1522.1,1540.7 1530.9,1531.7 1539.7,1523.5 1548.5,1514.7 1557.3,1507.3 1566.1,1502.8 1574.9,1496.8 1583.7,1491 1592.5,1486.1 1601.3,1481.2 1610.1,1478.8 1618.9,1476.5 1627.7,1475.3 1636.5,1473.8 1645.3,1472.5 1654.1,1470.6 1662.9,1468.6 1671.7,1466.9 1680.5,1465.4 1689.3,1463.4 1698.1,1462.6 1706.9,1461.3 1715.7,1460 1724.5,1459.2 1733.3,1458.7 1742.1,1457.8 1750.9,1456.6 1759.7,1456.1 1768.5,1455.7 1777.3,1455.6 1786.1,1455.2 1794.9,1455.1 1803.7,1454.6 1812.4,1454.6 1821.2,1454.6 1830,1454.6 1838.8,1454.6 1847.6,1454.6 1856.4,1454.6 1865.2,1454.6 1874,1454.6 1882.8,1454.1 1882.8,1947.6" fill="#bdd5e4" stroke="none" stroke-width="0"/>
<polyline points="1372.6,1902.5 1381.4,1869.1 1390.2,1841 1399,1813.9 1407.8,1788.6 1416.6,1763.2 1425.4,1738.2 1434.2,1713.2 1443,1692.3 1451.8,1674.6 1460.6,1653.4 1469.4,1631 1478.2,1610.6 1487,1594.7 1495.8,1581.1 1504.6,1566 1513.4,1554 1522.1,1540.7 1530.9,1531.7 1539.7,1523.5 1548.5,1514.7 1557.3,1507.3 1566.1,1502.8 1574.9,1496.8 1583.7,1491 1592.5,1486.1 1601.3,1481.2 1610.1,1478.8 1618.9,1476.5 1627.7,1475.3 1636.5,1473.8 1645.3,1472.5 1654.1,1470.6 1662.9,1468.6 1671.7,1466.9 1680.5,1465.4 1689.3,1463.4 1698.1,1462.6 1706.9,1461.3 1715.7,1460 1724.5,1459.2 1733.3,1458.7 1742.1,1457.8 1750.9,1456.6 1759.7,1456.1 1768.5,1455.7 1777.3,1455.6 1786.1,1455.2 1794.9,1455.1 1803.7,1454.6 1812.4,1454.6 1821.2,1454.6 1830,1454.6 1838.8,1454.6 1847.6,1454.6 1856.4,1454.6 1865.2,1454.6 1874,1454.6 1882.8,1454.1" fill="none" stroke="#3b5897" stroke-width="1.4" stroke-linejoin="round"/>
<line x1="1347" y1="1946.5" x2="1372.6" y2="1946.5" stroke="#444" stroke-width="1.1"/>
<line x1="1882.8" y1="1946.5" x2="1908.6" y2="1946.5" stroke="#444" stroke-width="1.1"/>
<line x1="1442.5" y1="1430.2" x2="1442.5" y2="1971.6" stroke="#c2463e" stroke-width="1.4"/>
<line x1="1347.5" y1="1430.2" x2="1347.5" y2="1972.2" stroke="#1c1c1c" stroke-width="1.5"/>
<line x1="1346.4" y1="1971.5" x2="1908.6" y2="1971.5" stroke="#1c1c1c" stroke-width="1.5"/>
<line x1="1343.2" y1="1946.5" x2="1347" y2="1946.5" stroke="#1c1c1c" stroke-width="1.5"/>
<text x="1340" y="1952.1" font-size="15" text-anchor="end" class="tk">0</text>
<line x1="1343.2" y1="1823.5" x2="1347" y2="1823.5" stroke="#1c1c1c" stroke-width="1.5"/>
<text x="1340" y="1829" font-size="15" text-anchor="end" class="tk">25</text>
<line x1="1343.2" y1="1700.5" x2="1347" y2="1700.5" stroke="#1c1c1c" stroke-width="1.5"/>
<text x="1340" y="1706" font-size="15" text-anchor="end" class="tk">50</text>
<line x1="1343.2" y1="1577.5" x2="1347" y2="1577.5" stroke="#1c1c1c" stroke-width="1.5"/>
<text x="1340" y="1583" font-size="15" text-anchor="end" class="tk">75</text>
<line x1="1343.2" y1="1454.5" x2="1347" y2="1454.5" stroke="#1c1c1c" stroke-width="1.5"/>
<text x="1340" y="1459.9" font-size="15" text-anchor="end" class="tk">100</text>
<line x1="1372.5" y1="1971.6" x2="1372.5" y2="1975.6" stroke="#1c1c1c" stroke-width="1.5"/>
<text x="1372.6" y="1989" font-size="15" text-anchor="middle" class="tk">1</text>
<line x1="1407.5" y1="1971.6" x2="1407.5" y2="1975.6" stroke="#1c1c1c" stroke-width="1.5"/>
<text x="1407.8" y="1989" font-size="15" text-anchor="middle" class="tk">5</text>
<line x1="1451.5" y1="1971.6" x2="1451.5" y2="1975.6" stroke="#1c1c1c" stroke-width="1.5"/>
<text x="1451.8" y="1989" font-size="15" text-anchor="middle" class="tk">10</text>
<line x1="1495.5" y1="1971.6" x2="1495.5" y2="1975.6" stroke="#1c1c1c" stroke-width="1.5"/>
<text x="1495.8" y="1989" font-size="15" text-anchor="middle" class="tk">15</text>
<line x1="1539.5" y1="1971.6" x2="1539.5" y2="1975.6" stroke="#1c1c1c" stroke-width="1.5"/>
<text x="1539.7" y="1989" font-size="15" text-anchor="middle" class="tk">20</text>
<line x1="1583.5" y1="1971.6" x2="1583.5" y2="1975.6" stroke="#1c1c1c" stroke-width="1.5"/>
<text x="1583.7" y="1989" font-size="15" text-anchor="middle" class="tk">25</text>
<line x1="1627.5" y1="1971.6" x2="1627.5" y2="1975.6" stroke="#1c1c1c" stroke-width="1.5"/>
<text x="1627.7" y="1989" font-size="15" text-anchor="middle" class="tk">30</text>
<line x1="1671.5" y1="1971.6" x2="1671.5" y2="1975.6" stroke="#1c1c1c" stroke-width="1.5"/>
<text x="1671.7" y="1989" font-size="15" text-anchor="middle" class="tk">35</text>
<line x1="1715.5" y1="1971.6" x2="1715.5" y2="1975.6" stroke="#1c1c1c" stroke-width="1.5"/>
<text x="1715.7" y="1989" font-size="15" text-anchor="middle" class="tk">40</text>
<line x1="1759.5" y1="1971.6" x2="1759.5" y2="1975.6" stroke="#1c1c1c" stroke-width="1.5"/>
<text x="1759.7" y="1989" font-size="15" text-anchor="middle" class="tk">45</text>
<line x1="1803.5" y1="1971.6" x2="1803.5" y2="1975.6" stroke="#1c1c1c" stroke-width="1.5"/>
<text x="1803.7" y="1989" font-size="15" text-anchor="middle" class="tk">50</text>
<line x1="1847.5" y1="1971.6" x2="1847.5" y2="1975.6" stroke="#1c1c1c" stroke-width="1.5"/>
<text x="1847.6" y="1989" font-size="15" text-anchor="middle" class="tk">55</text>
<line x1="1891.5" y1="1971.6" x2="1891.5" y2="1975.6" stroke="#1c1c1c" stroke-width="1.5"/>
<text x="1891.6" y="1989" font-size="15" text-anchor="middle" class="tk">60</text>
<text x="1627.6" y="2008.5" font-size="19.3" text-anchor="middle" class="lab">Block size (number of genes)</text>
<text x="1307" y="1699.5" font-size="19.3" text-anchor="middle" transform="rotate(-90 1307 1699.5)" class="lab">Cumulative percentage of genes in the genome</text>
</g>
<g id="panel-g">
<text transform="translate(-1.32 2088.73) scale(0.3405 0.3225)" font-size="100" font-weight="bold" class="dj ltr">G</text>
<text x="342" y="2102.5" font-size="26.4" text-anchor="middle" class="dj ttl">Left side telomere</text>
<polyline points="87,2619.4 108.3,2534.5 129.6,2517.8 150.8,2510 172.1,2508.4 193.3,2497.3 214.6,2492 235.8,2503.1 257.1,2471.6 278.3,2463 299.6,2438.1 320.8,2430.8 342.1,2367.1 363.3,2307.9 384.6,2313.2 405.8,2319.7 427.1,2268.7 448.3,2264.6 469.6,2245.8 490.8,2237.3 512,2201.7 533.3,2204.2 554.6,2208.7 575.8,2162.1 597,2196.4" fill="none" stroke="#2a1a2b" stroke-width="4" stroke-linejoin="round"/>
<polyline points="87,2581.9 88.7,2580.2 90.9,2577.9 93.5,2575.2 96.3,2572.1 99.4,2569 102.5,2565.8 105.5,2562.9 108.3,2560.2 111,2557.8 113.6,2555.4 116.3,2553.1 118.9,2550.9 121.6,2548.7 124.2,2546.6 126.9,2544.5 129.6,2542.5 132.2,2540.5 134.9,2538.6 137.5,2536.7 140.2,2534.9 142.8,2533.2 145.5,2531.4 148.1,2529.6 150.8,2527.9 153.5,2526.1 156.1,2524.4 158.8,2522.6 161.4,2520.9 164.1,2519.2 166.7,2517.5 169.4,2515.8 172.1,2514.1 174.7,2512.4 177.4,2510.8 180,2509.2 182.7,2507.6 185.3,2506 188,2504.4 190.6,2502.7 193.3,2501.1 196,2499.4 198.6,2497.7 201.3,2496 203.9,2494.3 206.6,2492.6 209.2,2490.8 211.9,2489.1 214.6,2487.3 217.2,2485.5 219.9,2483.7 222.5,2481.9 225.2,2480.1 227.8,2478.2 230.5,2476.4 233.1,2474.6 235.8,2472.7 238.5,2470.9 241.1,2469 243.8,2467.2 246.4,2465.3 249.1,2463.5 251.7,2461.6 254.4,2459.7 257.1,2457.7 259.7,2455.8 262.4,2453.7 265,2451.7 267.7,2449.7 270.3,2447.6 273,2445.5 275.6,2443.3 278.3,2441.2 281,2439 283.6,2436.8 286.3,2434.6 288.9,2432.3 291.6,2430 294.2,2427.7 296.9,2425.4 299.6,2423.1 302.2,2420.7 304.9,2418.3 307.5,2415.9 310.2,2413.4 312.8,2411 315.5,2408.5 318.1,2405.9 320.8,2403.3 323.5,2400.7 326.1,2398.1 328.8,2395.4 331.4,2392.7 334.1,2389.9 336.7,2387.2 339.4,2384.4 342.1,2381.7 344.7,2378.9 347.4,2376.1 350,2373.4 352.7,2370.6 355.3,2367.8 358,2364.9 360.6,2362.1 363.3,2359.2 366,2356.3 368.6,2353.4 371.3,2350.4 373.9,2347.5 376.6,2344.5 379.2,2341.5 381.9,2338.5 384.6,2335.6 387.2,2332.6 389.9,2329.7 392.5,2326.7 395.2,2323.7 397.8,2320.8 400.5,2317.8 403.1,2314.9 405.8,2311.9 408.5,2309 411.1,2306 413.8,2303 416.4,2300 419.1,2297.1 421.7,2294.1 424.4,2291.2 427.1,2288.3 429.7,2285.4 432.4,2282.6 435,2279.7 437.7,2276.9 440.3,2274.1 443,2271.3 445.6,2268.6 448.3,2265.8 451,2263.1 453.6,2260.3 456.3,2257.5 458.9,2254.8 461.6,2252.1 464.2,2249.4 466.9,2246.7 469.6,2244.1 472.2,2241.6 474.9,2239 477.5,2236.5 480.2,2234 482.8,2231.5 485.5,2229.1 488.1,2226.8 490.8,2224.4 493.5,2222.2 496.1,2219.9 498.8,2217.7 501.4,2215.5 504.1,2213.4 506.7,2211.4 509.4,2209.4 512,2207.5 514.7,2205.6 517.4,2203.8 520,2202.1 522.7,2200.4 525.3,2198.8 528,2197.3 530.6,2195.8 533.3,2194.5 536,2193.2 538.6,2192 541.3,2190.9 543.9,2189.9 546.6,2189 549.2,2188.2 551.9,2187.5 554.6,2187 557.2,2186.6 559.9,2186.2 562.5,2186 565.2,2185.9 567.8,2185.9 570.5,2186.1 573.1,2186.4 575.8,2187 578.6,2187.9 581.6,2189.2 584.7,2190.7 587.8,2192.3 590.6,2194 593.2,2195.5 595.4,2196.7 597,2197.6" fill="none" stroke="#c43e33" stroke-width="1.4"/>
<line x1="62.5" y1="2114.9" x2="62.5" y2="2657.5" stroke="#1c1c1c" stroke-width="1.5"/>
<line x1="62.1" y1="2656.5" x2="622.7" y2="2656.5" stroke="#1c1c1c" stroke-width="1.5"/>
<line x1="58.9" y1="2549.5" x2="62.7" y2="2549.5" stroke="#1c1c1c" stroke-width="1.5"/>
<text x="54.2" y="2554.9" font-size="15" text-anchor="end" class="tk">50</text>
<line x1="58.9" y1="2447.5" x2="62.7" y2="2447.5" stroke="#1c1c1c" stroke-width="1.5"/>
<text x="54.2" y="2452.8" font-size="15" text-anchor="end" class="tk">75</text>
<line x1="58.9" y1="2345.5" x2="62.7" y2="2345.5" stroke="#1c1c1c" stroke-width="1.5"/>
<text x="54.2" y="2350.8" font-size="15" text-anchor="end" class="tk">100</text>
<line x1="58.9" y1="2243.5" x2="62.7" y2="2243.5" stroke="#1c1c1c" stroke-width="1.5"/>
<text x="54.2" y="2248.7" font-size="15" text-anchor="end" class="tk">125</text>
<line x1="58.9" y1="2141.5" x2="62.7" y2="2141.5" stroke="#1c1c1c" stroke-width="1.5"/>
<text x="54.2" y="2146.6" font-size="15" text-anchor="end" class="tk">150</text>
<line x1="65.5" y1="2656.9" x2="65.5" y2="2660.9" stroke="#1c1c1c" stroke-width="1.5"/>
<text x="65.8" y="2674.2" font-size="15" text-anchor="middle" class="tk">0.0</text>
<line x1="172.5" y1="2656.9" x2="172.5" y2="2660.9" stroke="#1c1c1c" stroke-width="1.5"/>
<text x="172.1" y="2674.2" font-size="15" text-anchor="middle" class="tk">0.5</text>
<line x1="278.5" y1="2656.9" x2="278.5" y2="2660.9" stroke="#1c1c1c" stroke-width="1.5"/>
<text x="278.3" y="2674.2" font-size="15" text-anchor="middle" class="tk">1.0</text>
<line x1="384.5" y1="2656.9" x2="384.5" y2="2660.9" stroke="#1c1c1c" stroke-width="1.5"/>
<text x="384.6" y="2674.2" font-size="15" text-anchor="middle" class="tk">1.5</text>
<line x1="490.5" y1="2656.9" x2="490.5" y2="2660.9" stroke="#1c1c1c" stroke-width="1.5"/>
<text x="490.8" y="2674.2" font-size="15" text-anchor="middle" class="tk">2.0</text>
<line x1="597.5" y1="2656.9" x2="597.5" y2="2660.9" stroke="#1c1c1c" stroke-width="1.5"/>
<text x="597" y="2674.2" font-size="15" text-anchor="middle" class="tk">2.5</text>
<text x="342" y="2693.5" font-size="19.3" text-anchor="middle" class="lab">Distance from telomere (Mb)</text>
<text x="21.4" y="2386" font-size="19.3" text-anchor="middle" transform="rotate(-90 21.4 2386)" class="lab">LINE repeats per 100 kb</text>
<rect x="85.9" y="2264.3" width="34.5" height="8" fill="#2a1a2b" stroke="none" stroke-width="0"/>
<rect x="85.9" y="2286.9" width="34.5" height="5.6" fill="#bd3b33" stroke="none" stroke-width="0"/>
<text x="126.3" y="2272.5" font-size="14.8" class="dj lg">Chromosomes average</text>
<text x="126.3" y="2293.5" font-size="14.8" class="dj lg">Polynomial fit</text>
<text x="126.3" y="2313" font-size="14.8" class="dj lg">R<tspan font-size="9.5" dy="-5.5">2</tspan><tspan dy="5.5"> = 0.97</tspan></text>
<text x="954.3" y="2102.5" font-size="26.4" text-anchor="middle" class="dj ttl">Right side telomere</text>
<polyline points="699,2256.8 720.3,2318.5 741.5,2321.4 762.8,2306.3 784,2331.6 805.3,2354 826.5,2409.1 847.8,2400.6 869,2387.5 890.3,2403 911.5,2407.5 932.8,2451.2 954,2457.7 975.3,2469.6 996.5,2468.8 1017.8,2521 1039,2514.1 1060.3,2538.6 1081.5,2554.1 1102.8,2536.5 1124,2568.8 1145.3,2589.6 1166.5,2596.6 1187.8,2602.7" fill="none" stroke="#2a1a2b" stroke-width="4" stroke-linejoin="round"/>
<polyline points="699,2269.8 700.7,2271.7 702.9,2274.3 705.5,2277.3 708.3,2280.7 711.4,2284.3 714.5,2287.8 717.5,2291.2 720.3,2294.2 723,2296.9 725.6,2299.5 728.3,2302 730.9,2304.5 733.6,2306.9 736.2,2309.3 738.9,2311.6 741.5,2313.9 744.2,2316.1 746.9,2318.3 749.5,2320.5 752.2,2322.6 754.8,2324.7 757.5,2326.7 760.1,2328.8 762.8,2330.8 765.5,2332.9 768.1,2334.9 770.8,2336.9 773.4,2338.9 776.1,2340.8 778.7,2342.8 781.4,2344.7 784,2346.6 786.7,2348.5 789.4,2350.3 792,2352.2 794.7,2354 797.3,2355.8 800,2357.6 802.6,2359.4 805.3,2361.2 808,2362.9 810.6,2364.7 813.3,2366.4 815.9,2368.2 818.6,2369.9 821.2,2371.6 823.9,2373.3 826.5,2375 829.2,2376.7 831.9,2378.4 834.5,2380 837.2,2381.7 839.8,2383.4 842.5,2385 845.1,2386.7 847.8,2388.4 850.5,2390 853.1,2391.7 855.8,2393.4 858.4,2395 861.1,2396.7 863.7,2398.4 866.4,2400.1 869,2401.8 871.7,2403.5 874.4,2405.2 877,2406.9 879.7,2408.6 882.3,2410.4 885,2412.1 887.6,2413.8 890.3,2415.6 893,2417.3 895.6,2419 898.3,2420.7 900.9,2422.5 903.6,2424.2 906.2,2425.9 908.9,2427.6 911.5,2429.4 914.2,2431.1 916.9,2432.8 919.5,2434.5 922.2,2436.3 924.8,2438 927.5,2439.7 930.1,2441.4 932.8,2443.2 935.5,2444.9 938.1,2446.6 940.8,2448.3 943.4,2450 946.1,2451.8 948.7,2453.5 951.4,2455.2 954,2456.9 956.7,2458.7 959.4,2460.4 962,2462.1 964.7,2463.8 967.3,2465.5 970,2467.2 972.6,2469 975.3,2470.7 978,2472.5 980.6,2474.3 983.3,2476.1 985.9,2478 988.6,2479.8 991.2,2481.7 993.9,2483.5 996.5,2485.3 999.2,2487.1 1001.9,2489 1004.5,2490.8 1007.2,2492.6 1009.8,2494.4 1012.5,2496.2 1015.1,2498.1 1017.8,2499.9 1020.5,2501.8 1023.1,2503.6 1025.8,2505.5 1028.4,2507.4 1031.1,2509.2 1033.7,2511.1 1036.4,2513 1039,2514.9 1041.7,2516.7 1044.4,2518.6 1047,2520.5 1049.7,2522.3 1052.3,2524.2 1055,2526.1 1057.6,2527.9 1060.3,2529.9 1063,2531.8 1065.6,2533.8 1068.3,2535.8 1070.9,2537.8 1073.6,2539.8 1076.2,2541.7 1078.9,2543.7 1081.5,2545.6 1084.2,2547.5 1086.9,2549.4 1089.5,2551.2 1092.2,2553 1094.8,2554.8 1097.5,2556.6 1100.1,2558.4 1102.8,2560.2 1105.5,2562 1108.1,2563.7 1110.8,2565.5 1113.4,2567.3 1116.1,2569 1118.7,2570.7 1121.4,2572.4 1124,2574 1126.7,2575.6 1129.4,2577.1 1132,2578.7 1134.7,2580.2 1137.3,2581.7 1140,2583.1 1142.6,2584.5 1145.3,2585.8 1148,2587.1 1150.6,2588.3 1153.3,2589.5 1155.9,2590.7 1158.6,2591.8 1161.2,2592.8 1163.9,2593.9 1166.5,2594.9 1169.4,2595.9 1172.4,2596.9 1175.5,2597.9 1178.5,2598.8 1181.4,2599.7 1184,2600.4 1186.2,2601.1 1187.8,2601.6" fill="none" stroke="#c43e33" stroke-width="1.4"/>
<line x1="1235.5" y1="2114.9" x2="1235.5" y2="2657.5" stroke="#1c1c1c" stroke-width="1.5"/>
<line x1="672.7" y1="2656.5" x2="1235.7" y2="2656.5" stroke="#1c1c1c" stroke-width="1.5"/>
<line x1="1235.1" y1="2549.5" x2="1238.9" y2="2549.5" stroke="#1c1c1c" stroke-width="1.5"/>
<text x="1242" y="2554.9" font-size="15" class="tk">50</text>
<line x1="1235.1" y1="2447.5" x2="1238.9" y2="2447.5" stroke="#1c1c1c" stroke-width="1.5"/>
<text x="1242" y="2452.8" font-size="15" class="tk">75</text>
<line x1="1235.1" y1="2345.5" x2="1238.9" y2="2345.5" stroke="#1c1c1c" stroke-width="1.5"/>
<text x="1242" y="2350.8" font-size="15" class="tk">100</text>
<line x1="1235.1" y1="2243.5" x2="1238.9" y2="2243.5" stroke="#1c1c1c" stroke-width="1.5"/>
<text x="1242" y="2248.7" font-size="15" class="tk">125</text>
<line x1="1235.1" y1="2141.5" x2="1238.9" y2="2141.5" stroke="#1c1c1c" stroke-width="1.5"/>
<text x="1242" y="2146.6" font-size="15" class="tk">150</text>
<line x1="699.5" y1="2656.9" x2="699.5" y2="2660.9" stroke="#1c1c1c" stroke-width="1.5"/>
<text x="699" y="2674.2" font-size="15" text-anchor="middle" class="tk">-2.5</text>
<line x1="805.5" y1="2656.9" x2="805.5" y2="2660.9" stroke="#1c1c1c" stroke-width="1.5"/>
<text x="805.3" y="2674.2" font-size="15" text-anchor="middle" class="tk">-2.0</text>
<line x1="911.5" y1="2656.9" x2="911.5" y2="2660.9" stroke="#1c1c1c" stroke-width="1.5"/>
<text x="911.5" y="2674.2" font-size="15" text-anchor="middle" class="tk">-1.5</text>
<line x1="1017.5" y1="2656.9" x2="1017.5" y2="2660.9" stroke="#1c1c1c" stroke-width="1.5"/>
<text x="1017.8" y="2674.2" font-size="15" text-anchor="middle" class="tk">-1.0</text>
<line x1="1124.5" y1="2656.9" x2="1124.5" y2="2660.9" stroke="#1c1c1c" stroke-width="1.5"/>
<text x="1124" y="2674.2" font-size="15" text-anchor="middle" class="tk">-0.5</text>
<line x1="1230.5" y1="2656.9" x2="1230.5" y2="2660.9" stroke="#1c1c1c" stroke-width="1.5"/>
<text x="1230.3" y="2674.2" font-size="15" text-anchor="middle" class="tk">0.0</text>
<text x="954.3" y="2693.5" font-size="19.3" text-anchor="middle" class="lab">Distance from telomere (Mb)</text>
<text x="1281.5" y="2386" font-size="19.3" text-anchor="middle" transform="rotate(-90 1281.5 2386)" class="lab">LINE repeats per 100 kb</text>
<rect x="998.6" y="2271" width="34.5" height="8" fill="#2a1a2b" stroke="none" stroke-width="0"/>
<rect x="998.6" y="2293.6" width="34.5" height="5.6" fill="#bd3b33" stroke="none" stroke-width="0"/>
<text x="1038.5" y="2279.2" font-size="14.8" class="dj lg">Chromosomes average</text>
<text x="1038.5" y="2300.2" font-size="14.8" class="dj lg">Polynomial fit</text>
<text x="1038.5" y="2319.5" font-size="14.8" class="dj lg">R<tspan font-size="9.5" dy="-5.5">2</tspan><tspan dy="5.5"> = 0.98</tspan></text>
</g>
<g id="panel-h">
<text transform="translate(1289.09 2089.03) scale(0.3443 0.3351)" font-size="100" font-weight="bold" class="dj ltr">H</text>
<rect x="1420.7" y="2268.3" width="61.5" height="61.5" fill="#fff" stroke="#bcbcbc" stroke-width="1"/>
<rect x="1482.2" y="2268.3" width="61.5" height="61.5" fill="#fff" stroke="#bcbcbc" stroke-width="1"/>
<rect x="1543.6" y="2268.3" width="61.5" height="61.5" fill="#fff" stroke="#bcbcbc" stroke-width="1"/>
<rect x="1605.1" y="2268.3" width="61.5" height="61.5" fill="#fff" stroke="#bcbcbc" stroke-width="1"/>
<rect x="1666.5" y="2268.3" width="61.5" height="61.5" fill="#fff" stroke="#bcbcbc" stroke-width="1"/>
<rect x="1728" y="2268.3" width="61.5" height="61.5" fill="#fff" stroke="#bcbcbc" stroke-width="1"/>
<rect x="1789.4" y="2268.3" width="61.5" height="61.5" fill="#fff" stroke="#bcbcbc" stroke-width="1"/>
<rect x="1482.2" y="2329.8" width="61.5" height="61.5" fill="#fff" stroke="#bcbcbc" stroke-width="1"/>
<rect x="1543.6" y="2329.8" width="61.5" height="61.5" fill="#fff" stroke="#bcbcbc" stroke-width="1"/>
<rect x="1605.1" y="2329.8" width="61.5" height="61.5" fill="#fff" stroke="#bcbcbc" stroke-width="1"/>
<rect x="1666.5" y="2329.8" width="61.5" height="61.5" fill="#fff" stroke="#bcbcbc" stroke-width="1"/>
<rect x="1728" y="2329.8" width="61.5" height="61.5" fill="#fff" stroke="#bcbcbc" stroke-width="1"/>
<rect x="1789.4" y="2329.8" width="61.5" height="61.5" fill="#fff" stroke="#bcbcbc" stroke-width="1"/>
<rect x="1543.6" y="2391.2" width="61.5" height="61.5" fill="#fff" stroke="#bcbcbc" stroke-width="1"/>
<rect x="1605.1" y="2391.2" width="61.5" height="61.5" fill="#fff" stroke="#bcbcbc" stroke-width="1"/>
<rect x="1666.5" y="2391.2" width="61.5" height="61.5" fill="#fff" stroke="#bcbcbc" stroke-width="1"/>
<rect x="1728" y="2391.2" width="61.5" height="61.5" fill="#fff" stroke="#bcbcbc" stroke-width="1"/>
<rect x="1789.4" y="2391.2" width="61.5" height="61.5" fill="#fff" stroke="#bcbcbc" stroke-width="1"/>
<rect x="1605.1" y="2452.7" width="61.5" height="61.5" fill="#fff" stroke="#bcbcbc" stroke-width="1"/>
<rect x="1666.5" y="2452.7" width="61.5" height="61.5" fill="#fff" stroke="#bcbcbc" stroke-width="1"/>
<rect x="1728" y="2452.7" width="61.5" height="61.5" fill="#fff" stroke="#bcbcbc" stroke-width="1"/>
<rect x="1789.4" y="2452.7" width="61.5" height="61.5" fill="#fff" stroke="#bcbcbc" stroke-width="1"/>
<rect x="1666.5" y="2514.1" width="61.5" height="61.5" fill="#fff" stroke="#bcbcbc" stroke-width="1"/>
<rect x="1728" y="2514.1" width="61.5" height="61.5" fill="#fff" stroke="#bcbcbc" stroke-width="1"/>
<rect x="1789.4" y="2514.1" width="61.5" height="61.5" fill="#fff" stroke="#bcbcbc" stroke-width="1"/>
<rect x="1728" y="2575.6" width="61.5" height="61.5" fill="#fff" stroke="#bcbcbc" stroke-width="1"/>
<rect x="1789.4" y="2575.6" width="61.5" height="61.5" fill="#fff" stroke="#bcbcbc" stroke-width="1"/>
<rect x="1789.4" y="2637" width="61.5" height="61.5" fill="#fff" stroke="#bcbcbc" stroke-width="1"/>
<circle cx="1451.4" cy="2299" r="27.8" fill="#5b7cb9"/>
<circle cx="1512.9" cy="2299" r="13" fill="#deeaf4"/>
<circle cx="1574.3" cy="2299" r="11.4" fill="#deeaf4"/>
<circle cx="1635.8" cy="2299" r="7.9" fill="#f3d88d"/>
<circle cx="1697.2" cy="2299" r="12.2" fill="#f3d88d"/>
<circle cx="1758.7" cy="2299" r="13" fill="#f3d88d"/>
<circle cx="1820.1" cy="2299" r="12.2" fill="#f3d88d"/>
<text x="1412.2" y="2303.3" font-size="16.6" text-anchor="end" class="dj hl">RNASeq</text>
<text x="1456.8" y="2258.6" font-size="16.6" transform="rotate(-90 1456.8 2258.6)" class="dj hl">RNASeq</text>
<circle cx="1512.9" cy="2360.5" r="27.8" fill="#5b7cb9"/>
<circle cx="1574.3" cy="2360.5" r="22.5" fill="#8fb0d3"/>
<circle cx="1635.8" cy="2360.5" r="17.7" fill="#e8ae63"/>
<circle cx="1697.2" cy="2360.5" r="23.6" fill="#d3714e"/>
<circle cx="1758.7" cy="2360.5" r="24.8" fill="#b5423a"/>
<circle cx="1820.1" cy="2360.5" r="23.6" fill="#d3714e"/>
<text x="1473.7" y="2364.8" font-size="16.6" text-anchor="end" class="dj hl">GC content</text>
<text x="1518.3" y="2258.6" font-size="16.6" transform="rotate(-90 1518.3 2258.6)" class="dj hl">GC content</text>
<circle cx="1574.3" cy="2421.9" r="27.8" fill="#5b7cb9"/>
<circle cx="1635.8" cy="2421.9" r="15.8" fill="#e8ae63"/>
<circle cx="1697.2" cy="2421.9" r="20.5" fill="#d3714e"/>
<circle cx="1758.7" cy="2421.9" r="20.5" fill="#d3714e"/>
<circle cx="1820.1" cy="2421.9" r="19.3" fill="#e8ae63"/>
<text x="1535.1" y="2426.2" font-size="16.6" text-anchor="end" class="dj hl">Gene number</text>
<text x="1579.7" y="2258.6" font-size="16.6" transform="rotate(-90 1579.7 2258.6)" class="dj hl">Gene number</text>
<circle cx="1635.8" cy="2483.4" r="27.8" fill="#5b7cb9"/>
<circle cx="1697.2" cy="2483.4" r="18.1" fill="#bdd5e8"/>
<circle cx="1758.7" cy="2483.4" r="8.7" fill="#deeaf4"/>
<circle cx="1820.1" cy="2483.4" r="7.5" fill="#deeaf4"/>
<text x="1596.6" y="2487.7" font-size="16.6" text-anchor="end" class="dj hl">Repeat: DNA transposon</text>
<text x="1641.2" y="2258.6" font-size="16.6" transform="rotate(-90 1641.2 2258.6)" class="dj hl">Repeat: DNA transposon</text>
<circle cx="1697.2" cy="2544.8" r="27.8" fill="#5b7cb9"/>
<circle cx="1758.7" cy="2544.8" r="24" fill="#5b7cb9"/>
<circle cx="1820.1" cy="2544.8" r="21.3" fill="#8fb0d3"/>
<text x="1658" y="2549.1" font-size="16.6" text-anchor="end" class="dj hl">Repeat: Simple</text>
<text x="1702.6" y="2258.6" font-size="16.6" transform="rotate(-90 1702.6 2258.6)" class="dj hl">Repeat: Simple</text>
<circle cx="1758.7" cy="2606.3" r="27.8" fill="#5b7cb9"/>
<circle cx="1820.1" cy="2606.3" r="26" fill="#5b7cb9"/>
<text x="1719.5" y="2610.6" font-size="16.6" text-anchor="end" class="dj hl">Repeat: LINE</text>
<text x="1764.1" y="2258.6" font-size="16.6" transform="rotate(-90 1764.1 2258.6)" class="dj hl">Repeat: LINE</text>
<circle cx="1820.1" cy="2667.7" r="27.8" fill="#5b7cb9"/>
<text x="1780.9" y="2672" font-size="16.6" text-anchor="end" class="dj hl">Repeat: Unclassified</text>
<text x="1825.5" y="2258.6" font-size="16.6" transform="rotate(-90 1825.5 2258.6)" class="dj hl">Repeat: Unclassified</text>
<rect x="1858.7" y="2268.3" width="13.6" height="54.1" fill="#5b7cb9" stroke="none" stroke-width="0"/>
<rect x="1858.7" y="2322.1" width="13.6" height="54.1" fill="#8fb0d3" stroke="none" stroke-width="0"/>
<rect x="1858.7" y="2375.8" width="13.6" height="54.1" fill="#bdd5e8" stroke="none" stroke-width="0"/>
<rect x="1858.7" y="2429.6" width="13.6" height="54.1" fill="#deeaf4" stroke="none" stroke-width="0"/>
<rect x="1858.7" y="2483.4" width="13.6" height="54.1" fill="#f3d88d" stroke="none" stroke-width="0"/>
<rect x="1858.7" y="2537.1" width="13.6" height="54.1" fill="#e8ae63" stroke="none" stroke-width="0"/>
<rect x="1858.7" y="2590.9" width="13.6" height="54.1" fill="#d3714e" stroke="none" stroke-width="0"/>
<rect x="1858.7" y="2644.7" width="13.6" height="54.1" fill="#b5423a" stroke="none" stroke-width="0"/>
<rect x="1858.7" y="2268.3" width="13.6" height="430.2" fill="none" stroke="#10131c" stroke-width="1.3"/>
<line x1="1872.3" y1="2268.5" x2="1875.8" y2="2268.5" stroke="#151515" stroke-width="1.1"/>
<text x="1885.4" y="2273.8" font-size="15.2" font-weight="bold" class="dj cb">1</text>
<line x1="1872.3" y1="2322.5" x2="1875.8" y2="2322.5" stroke="#151515" stroke-width="1.1"/>
<text x="1885.4" y="2327.6" font-size="15.2" font-weight="bold" class="dj cb">0.75</text>
<line x1="1872.3" y1="2375.5" x2="1875.8" y2="2375.5" stroke="#151515" stroke-width="1.1"/>
<text x="1885.4" y="2381.3" font-size="15.2" font-weight="bold" class="dj cb">0.5</text>
<line x1="1872.3" y1="2429.5" x2="1875.8" y2="2429.5" stroke="#151515" stroke-width="1.1"/>
<text x="1885.4" y="2435.1" font-size="15.2" font-weight="bold" class="dj cb">0.25</text>
<line x1="1872.3" y1="2483.5" x2="1875.8" y2="2483.5" stroke="#151515" stroke-width="1.1"/>
<text x="1885.4" y="2488.9" font-size="15.2" font-weight="bold" class="dj cb">0</text>
<line x1="1872.3" y1="2537.5" x2="1875.8" y2="2537.5" stroke="#151515" stroke-width="1.1"/>
<text x="1879" y="2542.6" font-size="15.2" font-weight="bold" class="dj cb">-0.25</text>
<line x1="1872.3" y1="2590.5" x2="1875.8" y2="2590.5" stroke="#151515" stroke-width="1.1"/>
<text x="1879" y="2596.4" font-size="15.2" font-weight="bold" class="dj cb">-0.5</text>
<line x1="1872.3" y1="2644.5" x2="1875.8" y2="2644.5" stroke="#151515" stroke-width="1.1"/>
<text x="1879" y="2650.2" font-size="15.2" font-weight="bold" class="dj cb">-0.75</text>
<line x1="1872.3" y1="2698.5" x2="1875.8" y2="2698.5" stroke="#151515" stroke-width="1.1"/>
<text x="1879" y="2704" font-size="15.2" font-weight="bold" class="dj cb">-1</text>
</g>
</svg>
</body></html>
